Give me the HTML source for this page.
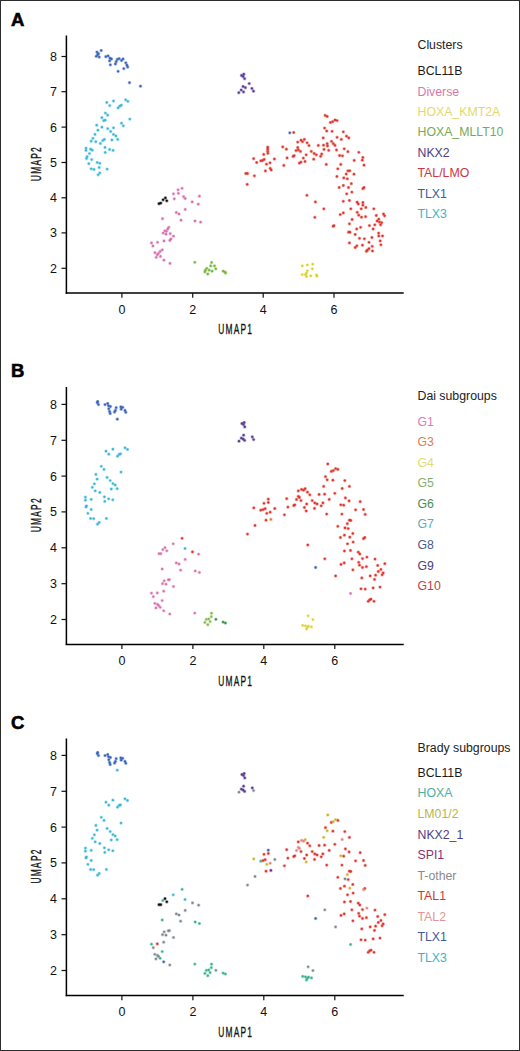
<!DOCTYPE html><html><head><meta charset="utf-8"><style>
html,body{margin:0;padding:0;background:#fff;}
body{width:520px;height:1051px;overflow:hidden;position:relative;}
svg{position:absolute;left:0;top:0;}
text{font-family:"Liberation Sans", sans-serif;}
</style></head><body>
<svg width="520" height="1051" viewBox="0 0 520 1051">
<rect x="0.5" y="0.5" width="519" height="1050" fill="#fff" stroke="#2c2c2c" stroke-width="1"/>
<text x="10.9" y="25.8" font-weight="bold" font-size="18.5" fill="#000" stroke="#000" stroke-width="0.6">A</text><line x1="66.4" y1="35.4" x2="66.4" y2="293.7" stroke="#000" stroke-width="1.5"/><line x1="65.7" y1="293" x2="403.7" y2="293" stroke="#000" stroke-width="1.5"/><line x1="61.5" y1="56.5" x2="66.4" y2="56.5" stroke="#111" stroke-width="1.2"/><text x="57" y="60.9" font-size="12.5" text-anchor="end" fill="#111">8</text><line x1="61.5" y1="91.7" x2="66.4" y2="91.7" stroke="#111" stroke-width="1.2"/><text x="57" y="96.1" font-size="12.5" text-anchor="end" fill="#111">7</text><line x1="61.5" y1="127.1" x2="66.4" y2="127.1" stroke="#111" stroke-width="1.2"/><text x="57" y="131.5" font-size="12.5" text-anchor="end" fill="#111">6</text><line x1="61.5" y1="162.5" x2="66.4" y2="162.5" stroke="#111" stroke-width="1.2"/><text x="57" y="166.9" font-size="12.5" text-anchor="end" fill="#111">5</text><line x1="61.5" y1="197.8" x2="66.4" y2="197.8" stroke="#111" stroke-width="1.2"/><text x="57" y="202.2" font-size="12.5" text-anchor="end" fill="#111">4</text><line x1="61.5" y1="232.9" x2="66.4" y2="232.9" stroke="#111" stroke-width="1.2"/><text x="57" y="237.3" font-size="12.5" text-anchor="end" fill="#111">3</text><line x1="61.5" y1="268.3" x2="66.4" y2="268.3" stroke="#111" stroke-width="1.2"/><text x="57" y="272.7" font-size="12.5" text-anchor="end" fill="#111">2</text><line x1="121.9" y1="293" x2="121.9" y2="297.7" stroke="#111" stroke-width="1.2"/><text x="121.9" y="313.6" font-size="12.5" text-anchor="middle" fill="#111">0</text><line x1="192.7" y1="293" x2="192.7" y2="297.7" stroke="#111" stroke-width="1.2"/><text x="192.7" y="313.6" font-size="12.5" text-anchor="middle" fill="#111">2</text><line x1="263.2" y1="293" x2="263.2" y2="297.7" stroke="#111" stroke-width="1.2"/><text x="263.2" y="313.6" font-size="12.5" text-anchor="middle" fill="#111">4</text><line x1="334.0" y1="293" x2="334.0" y2="297.7" stroke="#111" stroke-width="1.2"/><text x="334.0" y="313.6" font-size="12.5" text-anchor="middle" fill="#111">6</text><text transform="translate(235.7,334) scale(0.56,1)" font-size="15" letter-spacing="2.2" text-anchor="middle" fill="#111" stroke="#111" stroke-width="0.35">UMAP1</text><text transform="translate(41,163.6) rotate(-90) scale(0.56,1)" font-size="15" letter-spacing="2.2" text-anchor="middle" fill="#111" stroke="#111" stroke-width="0.35">UMAP2</text><text x="417.5" y="49.2" font-size="12.3" fill="#222">Clusters</text><text x="417.5" y="75.2" font-size="12.3" fill="#1a1a1a">BCL11B</text><text x="417.5" y="95.6" font-size="12.3" fill="#d67aaa">Diverse</text><text x="417.5" y="116.0" font-size="12.3" fill="#e2d96e">HOXA_KMT2A</text><text x="417.5" y="136.4" font-size="12.3" fill="#78aa56">HOXA_MLLT10</text><text x="417.5" y="156.8" font-size="12.3" fill="#4c4088">NKX2</text><text x="417.5" y="177.2" font-size="12.3" fill="#cc3640">TAL/LMO</text><text x="417.5" y="197.6" font-size="12.3" fill="#3c5c98">TLX1</text><text x="417.5" y="218.0" font-size="12.3" fill="#3eb2c4">TLX3</text>
<g fill="#3ebfe6" fill-opacity="0.35"><circle cx="106.8" cy="102.5" r="1.85"/><circle cx="109.7" cy="105.6" r="1.85"/><circle cx="113.5" cy="101.0" r="1.85"/><circle cx="125.6" cy="99.8" r="1.85"/><circle cx="127.9" cy="101.3" r="1.85"/><circle cx="118.1" cy="107.9" r="1.85"/><circle cx="119.8" cy="106.2" r="1.85"/><circle cx="121.3" cy="105.2" r="1.85"/><circle cx="105.4" cy="113.1" r="1.85"/><circle cx="107.7" cy="115.2" r="1.85"/><circle cx="101.9" cy="117.7" r="1.85"/><circle cx="103.7" cy="120.6" r="1.85"/><circle cx="105.2" cy="120.2" r="1.85"/><circle cx="129.8" cy="119.1" r="1.85"/><circle cx="121.5" cy="123.2" r="1.85"/><circle cx="123.3" cy="125.8" r="1.85"/><circle cx="96.7" cy="125.2" r="1.85"/><circle cx="97.9" cy="130.2" r="1.85"/><circle cx="101.9" cy="127.2" r="1.85"/><circle cx="107.7" cy="128.7" r="1.85"/><circle cx="113.5" cy="127.8" r="1.85"/><circle cx="110.6" cy="131.5" r="1.85"/><circle cx="95.0" cy="134.4" r="1.85"/><circle cx="113.5" cy="134.4" r="1.85"/><circle cx="116.0" cy="136.0" r="1.85"/><circle cx="117.7" cy="139.4" r="1.85"/><circle cx="111.9" cy="140.0" r="1.85"/><circle cx="104.4" cy="139.4" r="1.85"/><circle cx="102.7" cy="140.6" r="1.85"/><circle cx="100.4" cy="143.5" r="1.85"/><circle cx="95.8" cy="141.7" r="1.85"/><circle cx="92.9" cy="138.3" r="1.85"/><circle cx="91.2" cy="141.2" r="1.85"/><circle cx="86.0" cy="148.1" r="1.85"/><circle cx="86.0" cy="150.4" r="1.85"/><circle cx="90.6" cy="149.2" r="1.85"/><circle cx="92.3" cy="150.2" r="1.85"/><circle cx="89.4" cy="153.6" r="1.85"/><circle cx="87.1" cy="156.7" r="1.85"/><circle cx="86.5" cy="158.5" r="1.85"/><circle cx="91.7" cy="159.6" r="1.85"/><circle cx="105.0" cy="147.5" r="1.85"/><circle cx="109.6" cy="149.5" r="1.85"/><circle cx="113.1" cy="150.4" r="1.85"/><circle cx="105.2" cy="152.5" r="1.85"/><circle cx="88.8" cy="163.7" r="1.85"/><circle cx="97.2" cy="162.5" r="1.85"/><circle cx="99.8" cy="163.3" r="1.85"/><circle cx="99.2" cy="167.5" r="1.85"/><circle cx="91.2" cy="168.8" r="1.85"/><circle cx="94.0" cy="169.4" r="1.85"/><circle cx="107.1" cy="169.1" r="1.85"/><circle cx="99.8" cy="172.9" r="1.85"/><circle cx="98.1" cy="174.8" r="1.85"/></g><g fill="#3ab3d8"><circle cx="106.8" cy="102.5" r="1.15"/><circle cx="109.7" cy="105.6" r="1.15"/><circle cx="113.5" cy="101.0" r="1.15"/><circle cx="125.6" cy="99.8" r="1.15"/><circle cx="127.9" cy="101.3" r="1.15"/><circle cx="118.1" cy="107.9" r="1.15"/><circle cx="119.8" cy="106.2" r="1.15"/><circle cx="121.3" cy="105.2" r="1.15"/><circle cx="105.4" cy="113.1" r="1.15"/><circle cx="107.7" cy="115.2" r="1.15"/><circle cx="101.9" cy="117.7" r="1.15"/><circle cx="103.7" cy="120.6" r="1.15"/><circle cx="105.2" cy="120.2" r="1.15"/><circle cx="129.8" cy="119.1" r="1.15"/><circle cx="121.5" cy="123.2" r="1.15"/><circle cx="123.3" cy="125.8" r="1.15"/><circle cx="96.7" cy="125.2" r="1.15"/><circle cx="97.9" cy="130.2" r="1.15"/><circle cx="101.9" cy="127.2" r="1.15"/><circle cx="107.7" cy="128.7" r="1.15"/><circle cx="113.5" cy="127.8" r="1.15"/><circle cx="110.6" cy="131.5" r="1.15"/><circle cx="95.0" cy="134.4" r="1.15"/><circle cx="113.5" cy="134.4" r="1.15"/><circle cx="116.0" cy="136.0" r="1.15"/><circle cx="117.7" cy="139.4" r="1.15"/><circle cx="111.9" cy="140.0" r="1.15"/><circle cx="104.4" cy="139.4" r="1.15"/><circle cx="102.7" cy="140.6" r="1.15"/><circle cx="100.4" cy="143.5" r="1.15"/><circle cx="95.8" cy="141.7" r="1.15"/><circle cx="92.9" cy="138.3" r="1.15"/><circle cx="91.2" cy="141.2" r="1.15"/><circle cx="86.0" cy="148.1" r="1.15"/><circle cx="86.0" cy="150.4" r="1.15"/><circle cx="90.6" cy="149.2" r="1.15"/><circle cx="92.3" cy="150.2" r="1.15"/><circle cx="89.4" cy="153.6" r="1.15"/><circle cx="87.1" cy="156.7" r="1.15"/><circle cx="86.5" cy="158.5" r="1.15"/><circle cx="91.7" cy="159.6" r="1.15"/><circle cx="105.0" cy="147.5" r="1.15"/><circle cx="109.6" cy="149.5" r="1.15"/><circle cx="113.1" cy="150.4" r="1.15"/><circle cx="105.2" cy="152.5" r="1.15"/><circle cx="88.8" cy="163.7" r="1.15"/><circle cx="97.2" cy="162.5" r="1.15"/><circle cx="99.8" cy="163.3" r="1.15"/><circle cx="99.2" cy="167.5" r="1.15"/><circle cx="91.2" cy="168.8" r="1.15"/><circle cx="94.0" cy="169.4" r="1.15"/><circle cx="107.1" cy="169.1" r="1.15"/><circle cx="99.8" cy="172.9" r="1.15"/><circle cx="98.1" cy="174.8" r="1.15"/></g><g fill="#3b69c0" fill-opacity="0.35"><circle cx="101.2" cy="50.5" r="1.85"/><circle cx="96.9" cy="52.1" r="1.85"/><circle cx="98.5" cy="53.6" r="1.85"/><circle cx="97.7" cy="54.8" r="1.85"/><circle cx="96.2" cy="56.3" r="1.85"/><circle cx="99.2" cy="57.1" r="1.85"/><circle cx="105.8" cy="56.7" r="1.85"/><circle cx="108.1" cy="55.9" r="1.85"/><circle cx="110.0" cy="58.2" r="1.85"/><circle cx="111.5" cy="59.0" r="1.85"/><circle cx="109.6" cy="60.9" r="1.85"/><circle cx="110.4" cy="64.8" r="1.85"/><circle cx="115.4" cy="64.0" r="1.85"/><circle cx="116.2" cy="61.7" r="1.85"/><circle cx="117.3" cy="59.4" r="1.85"/><circle cx="119.2" cy="58.6" r="1.85"/><circle cx="121.5" cy="60.5" r="1.85"/><circle cx="123.1" cy="59.0" r="1.85"/><circle cx="125.8" cy="62.8" r="1.85"/><circle cx="126.9" cy="65.2" r="1.85"/><circle cx="127.7" cy="67.1" r="1.85"/><circle cx="123.8" cy="68.6" r="1.85"/><circle cx="118.1" cy="71.3" r="1.85"/><circle cx="129.5" cy="82.7" r="1.85"/><circle cx="140.5" cy="86.2" r="1.85"/><circle cx="289.8" cy="132.8" r="1.85"/></g><g fill="#3762b4"><circle cx="101.2" cy="50.5" r="1.15"/><circle cx="96.9" cy="52.1" r="1.15"/><circle cx="98.5" cy="53.6" r="1.15"/><circle cx="97.7" cy="54.8" r="1.15"/><circle cx="96.2" cy="56.3" r="1.15"/><circle cx="99.2" cy="57.1" r="1.15"/><circle cx="105.8" cy="56.7" r="1.15"/><circle cx="108.1" cy="55.9" r="1.15"/><circle cx="110.0" cy="58.2" r="1.15"/><circle cx="111.5" cy="59.0" r="1.15"/><circle cx="109.6" cy="60.9" r="1.15"/><circle cx="110.4" cy="64.8" r="1.15"/><circle cx="115.4" cy="64.0" r="1.15"/><circle cx="116.2" cy="61.7" r="1.15"/><circle cx="117.3" cy="59.4" r="1.15"/><circle cx="119.2" cy="58.6" r="1.15"/><circle cx="121.5" cy="60.5" r="1.15"/><circle cx="123.1" cy="59.0" r="1.15"/><circle cx="125.8" cy="62.8" r="1.15"/><circle cx="126.9" cy="65.2" r="1.15"/><circle cx="127.7" cy="67.1" r="1.15"/><circle cx="123.8" cy="68.6" r="1.15"/><circle cx="118.1" cy="71.3" r="1.15"/><circle cx="129.5" cy="82.7" r="1.15"/><circle cx="140.5" cy="86.2" r="1.15"/><circle cx="289.8" cy="132.8" r="1.15"/></g><g fill="#e274b4" fill-opacity="0.35"><circle cx="178.1" cy="189.8" r="1.85"/><circle cx="182.1" cy="188.3" r="1.85"/><circle cx="173.5" cy="193.8" r="1.85"/><circle cx="178.4" cy="193.3" r="1.85"/><circle cx="174.3" cy="198.8" r="1.85"/><circle cx="183.6" cy="196.7" r="1.85"/><circle cx="185.2" cy="198.5" r="1.85"/><circle cx="192.2" cy="201.9" r="1.85"/><circle cx="198.3" cy="204.2" r="1.85"/><circle cx="199.4" cy="196.2" r="1.85"/><circle cx="185.2" cy="209.4" r="1.85"/><circle cx="176.3" cy="212.5" r="1.85"/><circle cx="179.0" cy="214.0" r="1.85"/><circle cx="162.5" cy="218.7" r="1.85"/><circle cx="181.0" cy="220.2" r="1.85"/><circle cx="195.0" cy="221.0" r="1.85"/><circle cx="200.6" cy="222.2" r="1.85"/><circle cx="168.8" cy="227.3" r="1.85"/><circle cx="167.7" cy="229.0" r="1.85"/><circle cx="164.8" cy="230.8" r="1.85"/><circle cx="166.5" cy="231.3" r="1.85"/><circle cx="163.1" cy="233.1" r="1.85"/><circle cx="166.0" cy="234.2" r="1.85"/><circle cx="170.2" cy="233.7" r="1.85"/><circle cx="173.5" cy="236.2" r="1.85"/><circle cx="171.0" cy="239.0" r="1.85"/><circle cx="169.8" cy="240.4" r="1.85"/><circle cx="164.0" cy="240.9" r="1.85"/><circle cx="157.5" cy="242.3" r="1.85"/><circle cx="151.5" cy="242.9" r="1.85"/><circle cx="152.9" cy="246.0" r="1.85"/><circle cx="162.3" cy="249.8" r="1.85"/><circle cx="160.2" cy="251.3" r="1.85"/><circle cx="155.0" cy="252.7" r="1.85"/><circle cx="158.5" cy="253.3" r="1.85"/><circle cx="157.3" cy="254.8" r="1.85"/><circle cx="160.5" cy="256.4" r="1.85"/><circle cx="156.2" cy="257.3" r="1.85"/><circle cx="163.9" cy="260.2" r="1.85"/><circle cx="170.0" cy="263.4" r="1.85"/></g><g fill="#d46da9"><circle cx="178.1" cy="189.8" r="1.15"/><circle cx="182.1" cy="188.3" r="1.15"/><circle cx="173.5" cy="193.8" r="1.15"/><circle cx="178.4" cy="193.3" r="1.15"/><circle cx="174.3" cy="198.8" r="1.15"/><circle cx="183.6" cy="196.7" r="1.15"/><circle cx="185.2" cy="198.5" r="1.15"/><circle cx="192.2" cy="201.9" r="1.15"/><circle cx="198.3" cy="204.2" r="1.15"/><circle cx="199.4" cy="196.2" r="1.15"/><circle cx="185.2" cy="209.4" r="1.15"/><circle cx="176.3" cy="212.5" r="1.15"/><circle cx="179.0" cy="214.0" r="1.15"/><circle cx="162.5" cy="218.7" r="1.15"/><circle cx="181.0" cy="220.2" r="1.15"/><circle cx="195.0" cy="221.0" r="1.15"/><circle cx="200.6" cy="222.2" r="1.15"/><circle cx="168.8" cy="227.3" r="1.15"/><circle cx="167.7" cy="229.0" r="1.15"/><circle cx="164.8" cy="230.8" r="1.15"/><circle cx="166.5" cy="231.3" r="1.15"/><circle cx="163.1" cy="233.1" r="1.15"/><circle cx="166.0" cy="234.2" r="1.15"/><circle cx="170.2" cy="233.7" r="1.15"/><circle cx="173.5" cy="236.2" r="1.15"/><circle cx="171.0" cy="239.0" r="1.15"/><circle cx="169.8" cy="240.4" r="1.15"/><circle cx="164.0" cy="240.9" r="1.15"/><circle cx="157.5" cy="242.3" r="1.15"/><circle cx="151.5" cy="242.9" r="1.15"/><circle cx="152.9" cy="246.0" r="1.15"/><circle cx="162.3" cy="249.8" r="1.15"/><circle cx="160.2" cy="251.3" r="1.15"/><circle cx="155.0" cy="252.7" r="1.15"/><circle cx="158.5" cy="253.3" r="1.15"/><circle cx="157.3" cy="254.8" r="1.15"/><circle cx="160.5" cy="256.4" r="1.15"/><circle cx="156.2" cy="257.3" r="1.15"/><circle cx="163.9" cy="260.2" r="1.15"/><circle cx="170.0" cy="263.4" r="1.15"/></g><g fill="#111111" fill-opacity="0.35"><circle cx="159.0" cy="203.7" r="1.85"/><circle cx="160.8" cy="203.1" r="1.85"/><circle cx="163.1" cy="199.8" r="1.85"/><circle cx="165.4" cy="197.9" r="1.85"/><circle cx="166.8" cy="200.8" r="1.85"/></g><g fill="#0f0f0f"><circle cx="159.0" cy="203.7" r="1.15"/><circle cx="160.8" cy="203.1" r="1.15"/><circle cx="163.1" cy="199.8" r="1.15"/><circle cx="165.4" cy="197.9" r="1.15"/><circle cx="166.8" cy="200.8" r="1.15"/></g><g fill="#7cc040" fill-opacity="0.35"><circle cx="194.8" cy="262.3" r="1.85"/><circle cx="211.6" cy="262.5" r="1.85"/><circle cx="210.7" cy="265.9" r="1.85"/><circle cx="214.5" cy="265.9" r="1.85"/><circle cx="215.8" cy="268.8" r="1.85"/><circle cx="206.8" cy="268.3" r="1.85"/><circle cx="205.4" cy="270.2" r="1.85"/><circle cx="209.2" cy="270.2" r="1.85"/><circle cx="212.1" cy="271.2" r="1.85"/><circle cx="204.9" cy="271.9" r="1.85"/><circle cx="207.8" cy="274.0" r="1.85"/><circle cx="223.2" cy="271.2" r="1.85"/><circle cx="225.1" cy="272.1" r="1.85"/><circle cx="225.6" cy="273.1" r="1.85"/></g><g fill="#74b43c"><circle cx="194.8" cy="262.3" r="1.15"/><circle cx="211.6" cy="262.5" r="1.15"/><circle cx="210.7" cy="265.9" r="1.15"/><circle cx="214.5" cy="265.9" r="1.15"/><circle cx="215.8" cy="268.8" r="1.15"/><circle cx="206.8" cy="268.3" r="1.15"/><circle cx="205.4" cy="270.2" r="1.15"/><circle cx="209.2" cy="270.2" r="1.15"/><circle cx="212.1" cy="271.2" r="1.15"/><circle cx="204.9" cy="271.9" r="1.15"/><circle cx="207.8" cy="274.0" r="1.15"/><circle cx="223.2" cy="271.2" r="1.15"/><circle cx="225.1" cy="272.1" r="1.15"/><circle cx="225.6" cy="273.1" r="1.15"/></g><g fill="#5e3ea0" fill-opacity="0.35"><circle cx="241.5" cy="75.4" r="1.85"/><circle cx="243.8" cy="74.2" r="1.85"/><circle cx="243.1" cy="76.5" r="1.85"/><circle cx="244.6" cy="78.7" r="1.85"/><circle cx="249.2" cy="83.6" r="1.85"/><circle cx="243.1" cy="86.5" r="1.85"/><circle cx="245.4" cy="87.7" r="1.85"/><circle cx="251.9" cy="88.5" r="1.85"/><circle cx="253.5" cy="91.2" r="1.85"/><circle cx="241.2" cy="90.0" r="1.85"/><circle cx="243.5" cy="91.9" r="1.85"/><circle cx="238.8" cy="92.7" r="1.85"/></g><g fill="#583a96"><circle cx="241.5" cy="75.4" r="1.15"/><circle cx="243.8" cy="74.2" r="1.15"/><circle cx="243.1" cy="76.5" r="1.15"/><circle cx="244.6" cy="78.7" r="1.15"/><circle cx="249.2" cy="83.6" r="1.15"/><circle cx="243.1" cy="86.5" r="1.15"/><circle cx="245.4" cy="87.7" r="1.15"/><circle cx="251.9" cy="88.5" r="1.15"/><circle cx="253.5" cy="91.2" r="1.15"/><circle cx="241.2" cy="90.0" r="1.15"/><circle cx="243.5" cy="91.9" r="1.15"/><circle cx="238.8" cy="92.7" r="1.15"/></g><g fill="#ebe12a" fill-opacity="0.35"><circle cx="302.3" cy="265.8" r="1.85"/><circle cx="307.3" cy="265.0" r="1.85"/><circle cx="312.7" cy="264.2" r="1.85"/><circle cx="312.3" cy="268.8" r="1.85"/><circle cx="307.3" cy="270.8" r="1.85"/><circle cx="302.3" cy="274.6" r="1.85"/><circle cx="305.4" cy="274.6" r="1.85"/><circle cx="306.5" cy="276.5" r="1.85"/><circle cx="306.5" cy="273.1" r="1.85"/><circle cx="310.8" cy="275.8" r="1.85"/><circle cx="316.5" cy="275.0" r="1.85"/><circle cx="316.9" cy="276.2" r="1.85"/></g><g fill="#d8cf26"><circle cx="302.3" cy="265.8" r="1.15"/><circle cx="307.3" cy="265.0" r="1.15"/><circle cx="312.7" cy="264.2" r="1.15"/><circle cx="312.3" cy="268.8" r="1.15"/><circle cx="307.3" cy="270.8" r="1.15"/><circle cx="302.3" cy="274.6" r="1.15"/><circle cx="305.4" cy="274.6" r="1.15"/><circle cx="306.5" cy="276.5" r="1.15"/><circle cx="306.5" cy="273.1" r="1.15"/><circle cx="310.8" cy="275.8" r="1.15"/><circle cx="316.5" cy="275.0" r="1.15"/><circle cx="316.9" cy="276.2" r="1.15"/></g><g fill="#e3342b" fill-opacity="0.35"><circle cx="293.7" cy="132.5" r="1.85"/><circle cx="297.7" cy="142.1" r="1.85"/><circle cx="282.7" cy="146.9" r="1.85"/><circle cx="286.4" cy="149.2" r="1.85"/><circle cx="297.7" cy="147.5" r="1.85"/><circle cx="298.3" cy="149.8" r="1.85"/><circle cx="296.0" cy="150.6" r="1.85"/><circle cx="267.7" cy="147.2" r="1.85"/><circle cx="267.7" cy="149.2" r="1.85"/><circle cx="267.7" cy="151.3" r="1.85"/><circle cx="267.9" cy="153.3" r="1.85"/><circle cx="263.7" cy="154.4" r="1.85"/><circle cx="253.6" cy="158.7" r="1.85"/><circle cx="264.2" cy="159.4" r="1.85"/><circle cx="262.5" cy="160.5" r="1.85"/><circle cx="260.8" cy="160.8" r="1.85"/><circle cx="274.4" cy="159.0" r="1.85"/><circle cx="287.1" cy="157.9" r="1.85"/><circle cx="293.1" cy="156.4" r="1.85"/><circle cx="294.2" cy="155.6" r="1.85"/><circle cx="256.7" cy="162.5" r="1.85"/><circle cx="266.5" cy="164.2" r="1.85"/><circle cx="270.0" cy="162.8" r="1.85"/><circle cx="283.8" cy="165.4" r="1.85"/><circle cx="299.4" cy="163.1" r="1.85"/><circle cx="270.2" cy="168.3" r="1.85"/><circle cx="271.2" cy="170.0" r="1.85"/><circle cx="265.4" cy="170.9" r="1.85"/><circle cx="245.8" cy="173.5" r="1.85"/><circle cx="247.5" cy="173.5" r="1.85"/><circle cx="254.4" cy="175.8" r="1.85"/><circle cx="247.2" cy="184.4" r="1.85"/><circle cx="325.2" cy="115.4" r="1.85"/><circle cx="327.2" cy="116.5" r="1.85"/><circle cx="330.4" cy="122.5" r="1.85"/><circle cx="332.7" cy="121.7" r="1.85"/><circle cx="335.0" cy="120.0" r="1.85"/><circle cx="337.1" cy="120.6" r="1.85"/><circle cx="324.6" cy="128.1" r="1.85"/><circle cx="326.7" cy="131.0" r="1.85"/><circle cx="332.1" cy="131.3" r="1.85"/><circle cx="343.3" cy="131.8" r="1.85"/><circle cx="323.2" cy="137.9" r="1.85"/><circle cx="337.1" cy="137.3" r="1.85"/><circle cx="341.3" cy="139.4" r="1.85"/><circle cx="346.5" cy="136.2" r="1.85"/><circle cx="348.8" cy="137.9" r="1.85"/><circle cx="301.0" cy="140.2" r="1.85"/><circle cx="302.5" cy="141.7" r="1.85"/><circle cx="304.4" cy="139.4" r="1.85"/><circle cx="307.1" cy="142.8" r="1.85"/><circle cx="309.0" cy="145.6" r="1.85"/><circle cx="318.3" cy="145.4" r="1.85"/><circle cx="323.5" cy="145.2" r="1.85"/><circle cx="327.2" cy="143.7" r="1.85"/><circle cx="327.5" cy="146.0" r="1.85"/><circle cx="331.5" cy="141.3" r="1.85"/><circle cx="333.3" cy="143.7" r="1.85"/><circle cx="335.0" cy="145.4" r="1.85"/><circle cx="300.4" cy="151.4" r="1.85"/><circle cx="324.0" cy="149.4" r="1.85"/><circle cx="328.7" cy="150.3" r="1.85"/><circle cx="336.5" cy="150.0" r="1.85"/><circle cx="344.2" cy="148.8" r="1.85"/><circle cx="347.9" cy="151.7" r="1.85"/><circle cx="311.3" cy="151.4" r="1.85"/><circle cx="314.2" cy="153.5" r="1.85"/><circle cx="316.3" cy="154.8" r="1.85"/><circle cx="306.2" cy="154.8" r="1.85"/><circle cx="321.7" cy="154.0" r="1.85"/><circle cx="320.6" cy="156.3" r="1.85"/><circle cx="303.3" cy="158.1" r="1.85"/><circle cx="313.7" cy="159.2" r="1.85"/><circle cx="339.6" cy="155.5" r="1.85"/><circle cx="342.5" cy="155.8" r="1.85"/><circle cx="305.0" cy="161.5" r="1.85"/><circle cx="301.0" cy="162.1" r="1.85"/><circle cx="326.3" cy="164.4" r="1.85"/><circle cx="340.8" cy="164.4" r="1.85"/><circle cx="358.8" cy="152.3" r="1.85"/><circle cx="362.9" cy="157.5" r="1.85"/><circle cx="362.3" cy="160.2" r="1.85"/><circle cx="354.2" cy="160.4" r="1.85"/><circle cx="364.0" cy="165.2" r="1.85"/><circle cx="337.8" cy="168.8" r="1.85"/><circle cx="347.9" cy="170.8" r="1.85"/><circle cx="349.8" cy="170.8" r="1.85"/><circle cx="346.2" cy="174.0" r="1.85"/><circle cx="354.0" cy="174.2" r="1.85"/><circle cx="336.9" cy="176.5" r="1.85"/><circle cx="343.8" cy="177.9" r="1.85"/><circle cx="347.3" cy="178.8" r="1.85"/><circle cx="351.3" cy="183.7" r="1.85"/><circle cx="339.2" cy="187.5" r="1.85"/><circle cx="343.3" cy="185.5" r="1.85"/><circle cx="348.5" cy="187.5" r="1.85"/><circle cx="362.9" cy="188.7" r="1.85"/><circle cx="364.0" cy="187.5" r="1.85"/><circle cx="351.9" cy="192.1" r="1.85"/><circle cx="346.7" cy="193.8" r="1.85"/><circle cx="343.3" cy="201.3" r="1.85"/><circle cx="349.4" cy="200.5" r="1.85"/><circle cx="357.1" cy="202.2" r="1.85"/><circle cx="358.3" cy="204.0" r="1.85"/><circle cx="362.9" cy="202.5" r="1.85"/><circle cx="362.9" cy="205.2" r="1.85"/><circle cx="365.8" cy="207.5" r="1.85"/><circle cx="350.8" cy="208.8" r="1.85"/><circle cx="361.2" cy="208.8" r="1.85"/><circle cx="373.8" cy="208.8" r="1.85"/><circle cx="340.2" cy="214.6" r="1.85"/><circle cx="343.3" cy="212.9" r="1.85"/><circle cx="357.2" cy="212.3" r="1.85"/><circle cx="358.7" cy="215.2" r="1.85"/><circle cx="361.5" cy="217.2" r="1.85"/><circle cx="365.6" cy="216.7" r="1.85"/><circle cx="376.3" cy="215.5" r="1.85"/><circle cx="383.5" cy="214.0" r="1.85"/><circle cx="384.6" cy="215.8" r="1.85"/><circle cx="352.1" cy="219.5" r="1.85"/><circle cx="349.4" cy="223.8" r="1.85"/><circle cx="378.8" cy="219.2" r="1.85"/><circle cx="377.1" cy="221.0" r="1.85"/><circle cx="379.4" cy="222.1" r="1.85"/><circle cx="381.7" cy="222.7" r="1.85"/><circle cx="380.6" cy="224.8" r="1.85"/><circle cx="374.8" cy="224.8" r="1.85"/><circle cx="369.4" cy="225.6" r="1.85"/><circle cx="360.6" cy="227.3" r="1.85"/><circle cx="356.7" cy="229.0" r="1.85"/><circle cx="373.1" cy="229.0" r="1.85"/><circle cx="348.6" cy="232.2" r="1.85"/><circle cx="350.0" cy="232.2" r="1.85"/><circle cx="355.2" cy="234.5" r="1.85"/><circle cx="378.6" cy="233.1" r="1.85"/><circle cx="378.8" cy="236.0" r="1.85"/><circle cx="382.5" cy="236.0" r="1.85"/><circle cx="359.5" cy="238.3" r="1.85"/><circle cx="364.4" cy="238.8" r="1.85"/><circle cx="371.9" cy="237.5" r="1.85"/><circle cx="380.2" cy="240.9" r="1.85"/><circle cx="349.4" cy="242.9" r="1.85"/><circle cx="369.0" cy="242.3" r="1.85"/><circle cx="380.9" cy="244.8" r="1.85"/><circle cx="362.5" cy="245.2" r="1.85"/><circle cx="356.9" cy="245.8" r="1.85"/><circle cx="355.2" cy="247.5" r="1.85"/><circle cx="372.2" cy="246.3" r="1.85"/><circle cx="369.0" cy="248.7" r="1.85"/><circle cx="367.3" cy="250.2" r="1.85"/><circle cx="366.4" cy="251.3" r="1.85"/><circle cx="372.5" cy="251.0" r="1.85"/><circle cx="306.9" cy="195.3" r="1.85"/><circle cx="315.4" cy="201.9" r="1.85"/><circle cx="323.8" cy="208.8" r="1.85"/><circle cx="314.8" cy="217.3" r="1.85"/><circle cx="333.1" cy="226.3" r="1.85"/><circle cx="334.0" cy="225.6" r="1.85"/></g><g fill="#dc3229"><circle cx="293.7" cy="132.5" r="1.15"/><circle cx="297.7" cy="142.1" r="1.15"/><circle cx="282.7" cy="146.9" r="1.15"/><circle cx="286.4" cy="149.2" r="1.15"/><circle cx="297.7" cy="147.5" r="1.15"/><circle cx="298.3" cy="149.8" r="1.15"/><circle cx="296.0" cy="150.6" r="1.15"/><circle cx="267.7" cy="147.2" r="1.15"/><circle cx="267.7" cy="149.2" r="1.15"/><circle cx="267.7" cy="151.3" r="1.15"/><circle cx="267.9" cy="153.3" r="1.15"/><circle cx="263.7" cy="154.4" r="1.15"/><circle cx="253.6" cy="158.7" r="1.15"/><circle cx="264.2" cy="159.4" r="1.15"/><circle cx="262.5" cy="160.5" r="1.15"/><circle cx="260.8" cy="160.8" r="1.15"/><circle cx="274.4" cy="159.0" r="1.15"/><circle cx="287.1" cy="157.9" r="1.15"/><circle cx="293.1" cy="156.4" r="1.15"/><circle cx="294.2" cy="155.6" r="1.15"/><circle cx="256.7" cy="162.5" r="1.15"/><circle cx="266.5" cy="164.2" r="1.15"/><circle cx="270.0" cy="162.8" r="1.15"/><circle cx="283.8" cy="165.4" r="1.15"/><circle cx="299.4" cy="163.1" r="1.15"/><circle cx="270.2" cy="168.3" r="1.15"/><circle cx="271.2" cy="170.0" r="1.15"/><circle cx="265.4" cy="170.9" r="1.15"/><circle cx="245.8" cy="173.5" r="1.15"/><circle cx="247.5" cy="173.5" r="1.15"/><circle cx="254.4" cy="175.8" r="1.15"/><circle cx="247.2" cy="184.4" r="1.15"/><circle cx="325.2" cy="115.4" r="1.15"/><circle cx="327.2" cy="116.5" r="1.15"/><circle cx="330.4" cy="122.5" r="1.15"/><circle cx="332.7" cy="121.7" r="1.15"/><circle cx="335.0" cy="120.0" r="1.15"/><circle cx="337.1" cy="120.6" r="1.15"/><circle cx="324.6" cy="128.1" r="1.15"/><circle cx="326.7" cy="131.0" r="1.15"/><circle cx="332.1" cy="131.3" r="1.15"/><circle cx="343.3" cy="131.8" r="1.15"/><circle cx="323.2" cy="137.9" r="1.15"/><circle cx="337.1" cy="137.3" r="1.15"/><circle cx="341.3" cy="139.4" r="1.15"/><circle cx="346.5" cy="136.2" r="1.15"/><circle cx="348.8" cy="137.9" r="1.15"/><circle cx="301.0" cy="140.2" r="1.15"/><circle cx="302.5" cy="141.7" r="1.15"/><circle cx="304.4" cy="139.4" r="1.15"/><circle cx="307.1" cy="142.8" r="1.15"/><circle cx="309.0" cy="145.6" r="1.15"/><circle cx="318.3" cy="145.4" r="1.15"/><circle cx="323.5" cy="145.2" r="1.15"/><circle cx="327.2" cy="143.7" r="1.15"/><circle cx="327.5" cy="146.0" r="1.15"/><circle cx="331.5" cy="141.3" r="1.15"/><circle cx="333.3" cy="143.7" r="1.15"/><circle cx="335.0" cy="145.4" r="1.15"/><circle cx="300.4" cy="151.4" r="1.15"/><circle cx="324.0" cy="149.4" r="1.15"/><circle cx="328.7" cy="150.3" r="1.15"/><circle cx="336.5" cy="150.0" r="1.15"/><circle cx="344.2" cy="148.8" r="1.15"/><circle cx="347.9" cy="151.7" r="1.15"/><circle cx="311.3" cy="151.4" r="1.15"/><circle cx="314.2" cy="153.5" r="1.15"/><circle cx="316.3" cy="154.8" r="1.15"/><circle cx="306.2" cy="154.8" r="1.15"/><circle cx="321.7" cy="154.0" r="1.15"/><circle cx="320.6" cy="156.3" r="1.15"/><circle cx="303.3" cy="158.1" r="1.15"/><circle cx="313.7" cy="159.2" r="1.15"/><circle cx="339.6" cy="155.5" r="1.15"/><circle cx="342.5" cy="155.8" r="1.15"/><circle cx="305.0" cy="161.5" r="1.15"/><circle cx="301.0" cy="162.1" r="1.15"/><circle cx="326.3" cy="164.4" r="1.15"/><circle cx="340.8" cy="164.4" r="1.15"/><circle cx="358.8" cy="152.3" r="1.15"/><circle cx="362.9" cy="157.5" r="1.15"/><circle cx="362.3" cy="160.2" r="1.15"/><circle cx="354.2" cy="160.4" r="1.15"/><circle cx="364.0" cy="165.2" r="1.15"/><circle cx="337.8" cy="168.8" r="1.15"/><circle cx="347.9" cy="170.8" r="1.15"/><circle cx="349.8" cy="170.8" r="1.15"/><circle cx="346.2" cy="174.0" r="1.15"/><circle cx="354.0" cy="174.2" r="1.15"/><circle cx="336.9" cy="176.5" r="1.15"/><circle cx="343.8" cy="177.9" r="1.15"/><circle cx="347.3" cy="178.8" r="1.15"/><circle cx="351.3" cy="183.7" r="1.15"/><circle cx="339.2" cy="187.5" r="1.15"/><circle cx="343.3" cy="185.5" r="1.15"/><circle cx="348.5" cy="187.5" r="1.15"/><circle cx="362.9" cy="188.7" r="1.15"/><circle cx="364.0" cy="187.5" r="1.15"/><circle cx="351.9" cy="192.1" r="1.15"/><circle cx="346.7" cy="193.8" r="1.15"/><circle cx="343.3" cy="201.3" r="1.15"/><circle cx="349.4" cy="200.5" r="1.15"/><circle cx="357.1" cy="202.2" r="1.15"/><circle cx="358.3" cy="204.0" r="1.15"/><circle cx="362.9" cy="202.5" r="1.15"/><circle cx="362.9" cy="205.2" r="1.15"/><circle cx="365.8" cy="207.5" r="1.15"/><circle cx="350.8" cy="208.8" r="1.15"/><circle cx="361.2" cy="208.8" r="1.15"/><circle cx="373.8" cy="208.8" r="1.15"/><circle cx="340.2" cy="214.6" r="1.15"/><circle cx="343.3" cy="212.9" r="1.15"/><circle cx="357.2" cy="212.3" r="1.15"/><circle cx="358.7" cy="215.2" r="1.15"/><circle cx="361.5" cy="217.2" r="1.15"/><circle cx="365.6" cy="216.7" r="1.15"/><circle cx="376.3" cy="215.5" r="1.15"/><circle cx="383.5" cy="214.0" r="1.15"/><circle cx="384.6" cy="215.8" r="1.15"/><circle cx="352.1" cy="219.5" r="1.15"/><circle cx="349.4" cy="223.8" r="1.15"/><circle cx="378.8" cy="219.2" r="1.15"/><circle cx="377.1" cy="221.0" r="1.15"/><circle cx="379.4" cy="222.1" r="1.15"/><circle cx="381.7" cy="222.7" r="1.15"/><circle cx="380.6" cy="224.8" r="1.15"/><circle cx="374.8" cy="224.8" r="1.15"/><circle cx="369.4" cy="225.6" r="1.15"/><circle cx="360.6" cy="227.3" r="1.15"/><circle cx="356.7" cy="229.0" r="1.15"/><circle cx="373.1" cy="229.0" r="1.15"/><circle cx="348.6" cy="232.2" r="1.15"/><circle cx="350.0" cy="232.2" r="1.15"/><circle cx="355.2" cy="234.5" r="1.15"/><circle cx="378.6" cy="233.1" r="1.15"/><circle cx="378.8" cy="236.0" r="1.15"/><circle cx="382.5" cy="236.0" r="1.15"/><circle cx="359.5" cy="238.3" r="1.15"/><circle cx="364.4" cy="238.8" r="1.15"/><circle cx="371.9" cy="237.5" r="1.15"/><circle cx="380.2" cy="240.9" r="1.15"/><circle cx="349.4" cy="242.9" r="1.15"/><circle cx="369.0" cy="242.3" r="1.15"/><circle cx="380.9" cy="244.8" r="1.15"/><circle cx="362.5" cy="245.2" r="1.15"/><circle cx="356.9" cy="245.8" r="1.15"/><circle cx="355.2" cy="247.5" r="1.15"/><circle cx="372.2" cy="246.3" r="1.15"/><circle cx="369.0" cy="248.7" r="1.15"/><circle cx="367.3" cy="250.2" r="1.15"/><circle cx="366.4" cy="251.3" r="1.15"/><circle cx="372.5" cy="251.0" r="1.15"/><circle cx="306.9" cy="195.3" r="1.15"/><circle cx="315.4" cy="201.9" r="1.15"/><circle cx="323.8" cy="208.8" r="1.15"/><circle cx="314.8" cy="217.3" r="1.15"/><circle cx="333.1" cy="226.3" r="1.15"/><circle cx="334.0" cy="225.6" r="1.15"/></g>
<text x="10.9" y="377.3" font-weight="bold" font-size="18.5" fill="#000" stroke="#000" stroke-width="0.6">B</text><line x1="66.4" y1="387.1" x2="66.4" y2="645.1" stroke="#000" stroke-width="1.5"/><line x1="65.7" y1="644.4" x2="403.7" y2="644.4" stroke="#000" stroke-width="1.5"/><line x1="61.5" y1="404.4" x2="66.4" y2="404.4" stroke="#111" stroke-width="1.2"/><text x="57" y="408.8" font-size="12.5" text-anchor="end" fill="#111">8</text><line x1="61.5" y1="440.3" x2="66.4" y2="440.3" stroke="#111" stroke-width="1.2"/><text x="57" y="444.7" font-size="12.5" text-anchor="end" fill="#111">7</text><line x1="61.5" y1="476.1" x2="66.4" y2="476.1" stroke="#111" stroke-width="1.2"/><text x="57" y="480.5" font-size="12.5" text-anchor="end" fill="#111">6</text><line x1="61.5" y1="511.9" x2="66.4" y2="511.9" stroke="#111" stroke-width="1.2"/><text x="57" y="516.3" font-size="12.5" text-anchor="end" fill="#111">5</text><line x1="61.5" y1="547.8" x2="66.4" y2="547.8" stroke="#111" stroke-width="1.2"/><text x="57" y="552.2" font-size="12.5" text-anchor="end" fill="#111">4</text><line x1="61.5" y1="583.7" x2="66.4" y2="583.7" stroke="#111" stroke-width="1.2"/><text x="57" y="588.1" font-size="12.5" text-anchor="end" fill="#111">3</text><line x1="61.5" y1="619.5" x2="66.4" y2="619.5" stroke="#111" stroke-width="1.2"/><text x="57" y="623.9" font-size="12.5" text-anchor="end" fill="#111">2</text><line x1="121.9" y1="644.4" x2="121.9" y2="649.1" stroke="#111" stroke-width="1.2"/><text x="121.9" y="665.0" font-size="12.5" text-anchor="middle" fill="#111">0</text><line x1="192.9" y1="644.4" x2="192.9" y2="649.1" stroke="#111" stroke-width="1.2"/><text x="192.9" y="665.0" font-size="12.5" text-anchor="middle" fill="#111">2</text><line x1="263.8" y1="644.4" x2="263.8" y2="649.1" stroke="#111" stroke-width="1.2"/><text x="263.8" y="665.0" font-size="12.5" text-anchor="middle" fill="#111">4</text><line x1="334.8" y1="644.4" x2="334.8" y2="649.1" stroke="#111" stroke-width="1.2"/><text x="334.8" y="665.0" font-size="12.5" text-anchor="middle" fill="#111">6</text><text transform="translate(235.7,685.8) scale(0.56,1)" font-size="15" letter-spacing="2.2" text-anchor="middle" fill="#111" stroke="#111" stroke-width="0.35">UMAP1</text><text transform="translate(41,514.7) rotate(-90) scale(0.56,1)" font-size="15" letter-spacing="2.2" text-anchor="middle" fill="#111" stroke="#111" stroke-width="0.35">UMAP2</text><text x="417.5" y="400.3" font-size="12.3" fill="#222">Dai subgroups</text><text x="417.5" y="425.7" font-size="12.3" fill="#d880b0">G1</text><text x="417.5" y="446.2" font-size="12.3" fill="#d8804a">G3</text><text x="417.5" y="466.8" font-size="12.3" fill="#e2da74">G4</text><text x="417.5" y="487.3" font-size="12.3" fill="#86b070">G5</text><text x="417.5" y="507.9" font-size="12.3" fill="#4a8c58">G6</text><text x="417.5" y="528.4" font-size="12.3" fill="#56aebe">G7</text><text x="417.5" y="548.9" font-size="12.3" fill="#4a5c90">G8</text><text x="417.5" y="569.5" font-size="12.3" fill="#4c4078">G9</text><text x="417.5" y="590.0" font-size="12.3" fill="#c4404a">G10</text>
<g fill="#3b69c0" fill-opacity="0.35"><circle cx="97.7" cy="401.5" r="1.85"/><circle cx="97.3" cy="402.7" r="1.85"/><circle cx="98.5" cy="404.6" r="1.85"/><circle cx="105.0" cy="404.6" r="1.85"/><circle cx="107.7" cy="403.5" r="1.85"/><circle cx="108.5" cy="405.8" r="1.85"/><circle cx="110.4" cy="406.5" r="1.85"/><circle cx="108.8" cy="408.8" r="1.85"/><circle cx="109.6" cy="411.5" r="1.85"/><circle cx="110.2" cy="413.5" r="1.85"/><circle cx="116.2" cy="407.7" r="1.85"/><circle cx="115.4" cy="410.4" r="1.85"/><circle cx="114.5" cy="412.1" r="1.85"/><circle cx="120.8" cy="406.9" r="1.85"/><circle cx="122.7" cy="407.3" r="1.85"/><circle cx="121.2" cy="409.2" r="1.85"/><circle cx="125.0" cy="410.4" r="1.85"/><circle cx="125.8" cy="412.3" r="1.85"/><circle cx="117.3" cy="419.2" r="1.85"/><circle cx="315.6" cy="567.5" r="1.85"/></g><g fill="#3762b4"><circle cx="97.7" cy="401.5" r="1.15"/><circle cx="97.3" cy="402.7" r="1.15"/><circle cx="98.5" cy="404.6" r="1.15"/><circle cx="105.0" cy="404.6" r="1.15"/><circle cx="107.7" cy="403.5" r="1.15"/><circle cx="108.5" cy="405.8" r="1.15"/><circle cx="110.4" cy="406.5" r="1.15"/><circle cx="108.8" cy="408.8" r="1.15"/><circle cx="109.6" cy="411.5" r="1.15"/><circle cx="110.2" cy="413.5" r="1.15"/><circle cx="116.2" cy="407.7" r="1.15"/><circle cx="115.4" cy="410.4" r="1.15"/><circle cx="114.5" cy="412.1" r="1.15"/><circle cx="120.8" cy="406.9" r="1.15"/><circle cx="122.7" cy="407.3" r="1.15"/><circle cx="121.2" cy="409.2" r="1.15"/><circle cx="125.0" cy="410.4" r="1.15"/><circle cx="125.8" cy="412.3" r="1.15"/><circle cx="117.3" cy="419.2" r="1.15"/><circle cx="315.6" cy="567.5" r="1.15"/></g><g fill="#3ebfe6" fill-opacity="0.35"><circle cx="106.0" cy="451.2" r="1.85"/><circle cx="108.8" cy="454.2" r="1.85"/><circle cx="112.9" cy="449.2" r="1.85"/><circle cx="125.0" cy="447.8" r="1.85"/><circle cx="127.5" cy="449.5" r="1.85"/><circle cx="117.5" cy="456.2" r="1.85"/><circle cx="119.2" cy="454.4" r="1.85"/><circle cx="120.6" cy="453.8" r="1.85"/><circle cx="101.3" cy="466.3" r="1.85"/><circle cx="104.0" cy="469.4" r="1.85"/><circle cx="121.0" cy="472.1" r="1.85"/><circle cx="95.9" cy="474.4" r="1.85"/><circle cx="97.1" cy="479.2" r="1.85"/><circle cx="107.1" cy="477.5" r="1.85"/><circle cx="110.2" cy="480.6" r="1.85"/><circle cx="112.9" cy="483.6" r="1.85"/><circle cx="94.4" cy="483.8" r="1.85"/><circle cx="115.2" cy="485.0" r="1.85"/><circle cx="117.1" cy="488.7" r="1.85"/><circle cx="111.3" cy="489.0" r="1.85"/><circle cx="92.3" cy="487.3" r="1.85"/><circle cx="95.2" cy="490.8" r="1.85"/><circle cx="99.8" cy="492.5" r="1.85"/><circle cx="104.4" cy="496.8" r="1.85"/><circle cx="108.7" cy="498.8" r="1.85"/><circle cx="112.8" cy="499.8" r="1.85"/><circle cx="104.8" cy="501.4" r="1.85"/><circle cx="85.4" cy="497.1" r="1.85"/><circle cx="85.4" cy="500.2" r="1.85"/><circle cx="91.2" cy="499.4" r="1.85"/><circle cx="86.0" cy="506.9" r="1.85"/><circle cx="86.5" cy="506.0" r="1.85"/><circle cx="91.2" cy="509.5" r="1.85"/><circle cx="87.9" cy="513.3" r="1.85"/><circle cx="90.6" cy="518.5" r="1.85"/><circle cx="93.7" cy="518.7" r="1.85"/><circle cx="106.4" cy="518.5" r="1.85"/><circle cx="99.2" cy="522.5" r="1.85"/><circle cx="97.5" cy="524.2" r="1.85"/><circle cx="185.0" cy="548.5" r="1.85"/></g><g fill="#3ab3d8"><circle cx="106.0" cy="451.2" r="1.15"/><circle cx="108.8" cy="454.2" r="1.15"/><circle cx="112.9" cy="449.2" r="1.15"/><circle cx="125.0" cy="447.8" r="1.15"/><circle cx="127.5" cy="449.5" r="1.15"/><circle cx="117.5" cy="456.2" r="1.15"/><circle cx="119.2" cy="454.4" r="1.15"/><circle cx="120.6" cy="453.8" r="1.15"/><circle cx="101.3" cy="466.3" r="1.15"/><circle cx="104.0" cy="469.4" r="1.15"/><circle cx="121.0" cy="472.1" r="1.15"/><circle cx="95.9" cy="474.4" r="1.15"/><circle cx="97.1" cy="479.2" r="1.15"/><circle cx="107.1" cy="477.5" r="1.15"/><circle cx="110.2" cy="480.6" r="1.15"/><circle cx="112.9" cy="483.6" r="1.15"/><circle cx="94.4" cy="483.8" r="1.15"/><circle cx="115.2" cy="485.0" r="1.15"/><circle cx="117.1" cy="488.7" r="1.15"/><circle cx="111.3" cy="489.0" r="1.15"/><circle cx="92.3" cy="487.3" r="1.15"/><circle cx="95.2" cy="490.8" r="1.15"/><circle cx="99.8" cy="492.5" r="1.15"/><circle cx="104.4" cy="496.8" r="1.15"/><circle cx="108.7" cy="498.8" r="1.15"/><circle cx="112.8" cy="499.8" r="1.15"/><circle cx="104.8" cy="501.4" r="1.15"/><circle cx="85.4" cy="497.1" r="1.15"/><circle cx="85.4" cy="500.2" r="1.15"/><circle cx="91.2" cy="499.4" r="1.15"/><circle cx="86.0" cy="506.9" r="1.15"/><circle cx="86.5" cy="506.0" r="1.15"/><circle cx="91.2" cy="509.5" r="1.15"/><circle cx="87.9" cy="513.3" r="1.15"/><circle cx="90.6" cy="518.5" r="1.15"/><circle cx="93.7" cy="518.7" r="1.15"/><circle cx="106.4" cy="518.5" r="1.15"/><circle cx="99.2" cy="522.5" r="1.15"/><circle cx="97.5" cy="524.2" r="1.15"/><circle cx="185.0" cy="548.5" r="1.15"/></g><g fill="#e3342b" fill-opacity="0.35"><circle cx="182.1" cy="538.3" r="1.85"/><circle cx="192.5" cy="551.9" r="1.85"/><circle cx="268.3" cy="499.2" r="1.85"/><circle cx="253.8" cy="507.9" r="1.85"/><circle cx="266.8" cy="513.3" r="1.85"/><circle cx="327.8" cy="464.0" r="1.85"/><circle cx="333.3" cy="470.6" r="1.85"/><circle cx="335.6" cy="468.6" r="1.85"/><circle cx="327.2" cy="479.8" r="1.85"/><circle cx="323.7" cy="486.4" r="1.85"/><circle cx="305.2" cy="488.7" r="1.85"/><circle cx="306.2" cy="511.0" r="1.85"/><circle cx="340.8" cy="504.8" r="1.85"/><circle cx="347.3" cy="523.7" r="1.85"/><circle cx="349.8" cy="537.2" r="1.85"/><circle cx="260.8" cy="510.2" r="1.85"/><circle cx="270.2" cy="512.2" r="1.85"/><circle cx="342.2" cy="488.5" r="1.85"/><circle cx="301.5" cy="489.4" r="1.85"/><circle cx="303.6" cy="490.2" r="1.85"/><circle cx="298.3" cy="496.3" r="1.85"/><circle cx="299.4" cy="497.5" r="1.85"/><circle cx="296.5" cy="499.5" r="1.85"/><circle cx="363.5" cy="538.7" r="1.85"/><circle cx="366.9" cy="557.1" r="1.85"/><circle cx="274.8" cy="508.5" r="1.85"/><circle cx="255.0" cy="525.5" r="1.85"/><circle cx="247.5" cy="534.1" r="1.85"/><circle cx="345.0" cy="527.9" r="1.85"/><circle cx="324.8" cy="558.8" r="1.85"/><circle cx="335.6" cy="575.9" r="1.85"/><circle cx="284.4" cy="514.8" r="1.85"/><circle cx="298.3" cy="490.9" r="1.85"/><circle cx="268.3" cy="502.5" r="1.85"/><circle cx="264.0" cy="503.3" r="1.85"/><circle cx="263.1" cy="509.6" r="1.85"/><circle cx="265.2" cy="508.7" r="1.85"/><circle cx="286.7" cy="498.7" r="1.85"/><circle cx="287.9" cy="507.1" r="1.85"/><circle cx="293.7" cy="505.6" r="1.85"/><circle cx="294.8" cy="504.8" r="1.85"/><circle cx="266.0" cy="520.2" r="1.85"/><circle cx="331.3" cy="471.4" r="1.85"/><circle cx="337.9" cy="469.4" r="1.85"/><circle cx="325.5" cy="476.7" r="1.85"/><circle cx="332.9" cy="480.2" r="1.85"/><circle cx="344.8" cy="480.6" r="1.85"/><circle cx="349.4" cy="486.4" r="1.85"/><circle cx="307.5" cy="492.2" r="1.85"/><circle cx="309.8" cy="494.8" r="1.85"/><circle cx="319.1" cy="494.5" r="1.85"/><circle cx="324.6" cy="494.2" r="1.85"/><circle cx="334.8" cy="493.3" r="1.85"/><circle cx="301.0" cy="500.6" r="1.85"/><circle cx="312.2" cy="500.6" r="1.85"/><circle cx="314.8" cy="502.9" r="1.85"/><circle cx="317.1" cy="504.0" r="1.85"/><circle cx="322.9" cy="502.9" r="1.85"/><circle cx="321.2" cy="505.8" r="1.85"/><circle cx="306.7" cy="504.0" r="1.85"/><circle cx="304.4" cy="507.5" r="1.85"/><circle cx="314.5" cy="508.4" r="1.85"/><circle cx="329.2" cy="499.4" r="1.85"/><circle cx="345.4" cy="497.9" r="1.85"/><circle cx="349.1" cy="500.9" r="1.85"/><circle cx="343.7" cy="505.2" r="1.85"/><circle cx="326.7" cy="514.1" r="1.85"/><circle cx="341.9" cy="514.1" r="1.85"/><circle cx="360.2" cy="501.7" r="1.85"/><circle cx="355.6" cy="509.8" r="1.85"/><circle cx="363.5" cy="509.5" r="1.85"/><circle cx="365.2" cy="514.4" r="1.85"/><circle cx="349.4" cy="520.2" r="1.85"/><circle cx="350.8" cy="520.5" r="1.85"/><circle cx="337.8" cy="526.3" r="1.85"/><circle cx="348.2" cy="528.6" r="1.85"/><circle cx="352.8" cy="533.5" r="1.85"/><circle cx="344.4" cy="535.2" r="1.85"/><circle cx="340.4" cy="537.5" r="1.85"/><circle cx="364.8" cy="537.5" r="1.85"/><circle cx="353.1" cy="542.1" r="1.85"/><circle cx="347.5" cy="543.8" r="1.85"/><circle cx="344.4" cy="551.0" r="1.85"/><circle cx="350.5" cy="550.5" r="1.85"/><circle cx="358.3" cy="552.2" r="1.85"/><circle cx="359.8" cy="554.0" r="1.85"/><circle cx="351.9" cy="558.8" r="1.85"/><circle cx="362.5" cy="558.6" r="1.85"/><circle cx="375.0" cy="559.1" r="1.85"/><circle cx="341.0" cy="564.4" r="1.85"/><circle cx="344.2" cy="562.9" r="1.85"/><circle cx="358.7" cy="562.3" r="1.85"/><circle cx="359.5" cy="565.2" r="1.85"/><circle cx="362.5" cy="567.5" r="1.85"/><circle cx="366.4" cy="566.7" r="1.85"/><circle cx="377.7" cy="565.5" r="1.85"/><circle cx="384.8" cy="563.7" r="1.85"/><circle cx="352.9" cy="569.8" r="1.85"/><circle cx="380.9" cy="569.5" r="1.85"/><circle cx="378.3" cy="571.5" r="1.85"/><circle cx="383.2" cy="572.9" r="1.85"/><circle cx="382.1" cy="574.8" r="1.85"/><circle cx="375.6" cy="575.2" r="1.85"/><circle cx="370.2" cy="575.9" r="1.85"/><circle cx="361.8" cy="577.9" r="1.85"/><circle cx="374.5" cy="579.4" r="1.85"/><circle cx="361.0" cy="588.8" r="1.85"/><circle cx="365.2" cy="589.1" r="1.85"/><circle cx="373.1" cy="587.9" r="1.85"/><circle cx="380.0" cy="587.1" r="1.85"/><circle cx="368.2" cy="601.3" r="1.85"/><circle cx="369.6" cy="599.8" r="1.85"/><circle cx="371.0" cy="599.2" r="1.85"/><circle cx="374.0" cy="601.3" r="1.85"/><circle cx="307.8" cy="545.0" r="1.85"/></g><g fill="#dc3229"><circle cx="182.1" cy="538.3" r="1.15"/><circle cx="192.5" cy="551.9" r="1.15"/><circle cx="268.3" cy="499.2" r="1.15"/><circle cx="253.8" cy="507.9" r="1.15"/><circle cx="266.8" cy="513.3" r="1.15"/><circle cx="327.8" cy="464.0" r="1.15"/><circle cx="333.3" cy="470.6" r="1.15"/><circle cx="335.6" cy="468.6" r="1.15"/><circle cx="327.2" cy="479.8" r="1.15"/><circle cx="323.7" cy="486.4" r="1.15"/><circle cx="305.2" cy="488.7" r="1.15"/><circle cx="306.2" cy="511.0" r="1.15"/><circle cx="340.8" cy="504.8" r="1.15"/><circle cx="347.3" cy="523.7" r="1.15"/><circle cx="349.8" cy="537.2" r="1.15"/><circle cx="260.8" cy="510.2" r="1.15"/><circle cx="270.2" cy="512.2" r="1.15"/><circle cx="342.2" cy="488.5" r="1.15"/><circle cx="301.5" cy="489.4" r="1.15"/><circle cx="303.6" cy="490.2" r="1.15"/><circle cx="298.3" cy="496.3" r="1.15"/><circle cx="299.4" cy="497.5" r="1.15"/><circle cx="296.5" cy="499.5" r="1.15"/><circle cx="363.5" cy="538.7" r="1.15"/><circle cx="366.9" cy="557.1" r="1.15"/><circle cx="274.8" cy="508.5" r="1.15"/><circle cx="255.0" cy="525.5" r="1.15"/><circle cx="247.5" cy="534.1" r="1.15"/><circle cx="345.0" cy="527.9" r="1.15"/><circle cx="324.8" cy="558.8" r="1.15"/><circle cx="335.6" cy="575.9" r="1.15"/><circle cx="284.4" cy="514.8" r="1.15"/><circle cx="298.3" cy="490.9" r="1.15"/><circle cx="268.3" cy="502.5" r="1.15"/><circle cx="264.0" cy="503.3" r="1.15"/><circle cx="263.1" cy="509.6" r="1.15"/><circle cx="265.2" cy="508.7" r="1.15"/><circle cx="286.7" cy="498.7" r="1.15"/><circle cx="287.9" cy="507.1" r="1.15"/><circle cx="293.7" cy="505.6" r="1.15"/><circle cx="294.8" cy="504.8" r="1.15"/><circle cx="266.0" cy="520.2" r="1.15"/><circle cx="331.3" cy="471.4" r="1.15"/><circle cx="337.9" cy="469.4" r="1.15"/><circle cx="325.5" cy="476.7" r="1.15"/><circle cx="332.9" cy="480.2" r="1.15"/><circle cx="344.8" cy="480.6" r="1.15"/><circle cx="349.4" cy="486.4" r="1.15"/><circle cx="307.5" cy="492.2" r="1.15"/><circle cx="309.8" cy="494.8" r="1.15"/><circle cx="319.1" cy="494.5" r="1.15"/><circle cx="324.6" cy="494.2" r="1.15"/><circle cx="334.8" cy="493.3" r="1.15"/><circle cx="301.0" cy="500.6" r="1.15"/><circle cx="312.2" cy="500.6" r="1.15"/><circle cx="314.8" cy="502.9" r="1.15"/><circle cx="317.1" cy="504.0" r="1.15"/><circle cx="322.9" cy="502.9" r="1.15"/><circle cx="321.2" cy="505.8" r="1.15"/><circle cx="306.7" cy="504.0" r="1.15"/><circle cx="304.4" cy="507.5" r="1.15"/><circle cx="314.5" cy="508.4" r="1.15"/><circle cx="329.2" cy="499.4" r="1.15"/><circle cx="345.4" cy="497.9" r="1.15"/><circle cx="349.1" cy="500.9" r="1.15"/><circle cx="343.7" cy="505.2" r="1.15"/><circle cx="326.7" cy="514.1" r="1.15"/><circle cx="341.9" cy="514.1" r="1.15"/><circle cx="360.2" cy="501.7" r="1.15"/><circle cx="355.6" cy="509.8" r="1.15"/><circle cx="363.5" cy="509.5" r="1.15"/><circle cx="365.2" cy="514.4" r="1.15"/><circle cx="349.4" cy="520.2" r="1.15"/><circle cx="350.8" cy="520.5" r="1.15"/><circle cx="337.8" cy="526.3" r="1.15"/><circle cx="348.2" cy="528.6" r="1.15"/><circle cx="352.8" cy="533.5" r="1.15"/><circle cx="344.4" cy="535.2" r="1.15"/><circle cx="340.4" cy="537.5" r="1.15"/><circle cx="364.8" cy="537.5" r="1.15"/><circle cx="353.1" cy="542.1" r="1.15"/><circle cx="347.5" cy="543.8" r="1.15"/><circle cx="344.4" cy="551.0" r="1.15"/><circle cx="350.5" cy="550.5" r="1.15"/><circle cx="358.3" cy="552.2" r="1.15"/><circle cx="359.8" cy="554.0" r="1.15"/><circle cx="351.9" cy="558.8" r="1.15"/><circle cx="362.5" cy="558.6" r="1.15"/><circle cx="375.0" cy="559.1" r="1.15"/><circle cx="341.0" cy="564.4" r="1.15"/><circle cx="344.2" cy="562.9" r="1.15"/><circle cx="358.7" cy="562.3" r="1.15"/><circle cx="359.5" cy="565.2" r="1.15"/><circle cx="362.5" cy="567.5" r="1.15"/><circle cx="366.4" cy="566.7" r="1.15"/><circle cx="377.7" cy="565.5" r="1.15"/><circle cx="384.8" cy="563.7" r="1.15"/><circle cx="352.9" cy="569.8" r="1.15"/><circle cx="380.9" cy="569.5" r="1.15"/><circle cx="378.3" cy="571.5" r="1.15"/><circle cx="383.2" cy="572.9" r="1.15"/><circle cx="382.1" cy="574.8" r="1.15"/><circle cx="375.6" cy="575.2" r="1.15"/><circle cx="370.2" cy="575.9" r="1.15"/><circle cx="361.8" cy="577.9" r="1.15"/><circle cx="374.5" cy="579.4" r="1.15"/><circle cx="361.0" cy="588.8" r="1.15"/><circle cx="365.2" cy="589.1" r="1.15"/><circle cx="373.1" cy="587.9" r="1.15"/><circle cx="380.0" cy="587.1" r="1.15"/><circle cx="368.2" cy="601.3" r="1.15"/><circle cx="369.6" cy="599.8" r="1.15"/><circle cx="371.0" cy="599.2" r="1.15"/><circle cx="374.0" cy="601.3" r="1.15"/><circle cx="307.8" cy="545.0" r="1.15"/></g><g fill="#e27ab6" fill-opacity="0.35"><circle cx="173.2" cy="543.8" r="1.85"/><circle cx="198.6" cy="554.2" r="1.85"/><circle cx="165.0" cy="547.7" r="1.85"/><circle cx="166.8" cy="550.8" r="1.85"/><circle cx="159.0" cy="553.7" r="1.85"/><circle cx="160.8" cy="553.7" r="1.85"/><circle cx="162.8" cy="549.6" r="1.85"/><circle cx="185.2" cy="559.4" r="1.85"/><circle cx="176.3" cy="562.9" r="1.85"/><circle cx="179.0" cy="564.0" r="1.85"/><circle cx="180.6" cy="570.2" r="1.85"/><circle cx="164.2" cy="580.8" r="1.85"/><circle cx="168.3" cy="579.8" r="1.85"/><circle cx="169.4" cy="579.6" r="1.85"/><circle cx="162.5" cy="583.7" r="1.85"/><circle cx="166.0" cy="584.2" r="1.85"/><circle cx="173.5" cy="586.5" r="1.85"/><circle cx="163.7" cy="591.2" r="1.85"/><circle cx="153.3" cy="596.7" r="1.85"/><circle cx="154.8" cy="603.3" r="1.85"/><circle cx="157.5" cy="604.4" r="1.85"/><circle cx="158.7" cy="605.6" r="1.85"/><circle cx="155.9" cy="607.9" r="1.85"/><circle cx="169.8" cy="614.0" r="1.85"/><circle cx="162.2" cy="569.0" r="1.85"/><circle cx="195.2" cy="571.0" r="1.85"/><circle cx="199.4" cy="572.5" r="1.85"/><circle cx="151.5" cy="593.2" r="1.85"/><circle cx="162.2" cy="600.6" r="1.85"/><circle cx="160.2" cy="607.3" r="1.85"/><circle cx="194.8" cy="613.1" r="1.85"/><circle cx="157.3" cy="592.9" r="1.85"/><circle cx="163.7" cy="610.8" r="1.85"/><circle cx="350.6" cy="593.5" r="1.85"/></g><g fill="#d472ab"><circle cx="173.2" cy="543.8" r="1.15"/><circle cx="198.6" cy="554.2" r="1.15"/><circle cx="165.0" cy="547.7" r="1.15"/><circle cx="166.8" cy="550.8" r="1.15"/><circle cx="159.0" cy="553.7" r="1.15"/><circle cx="160.8" cy="553.7" r="1.15"/><circle cx="162.8" cy="549.6" r="1.15"/><circle cx="185.2" cy="559.4" r="1.15"/><circle cx="176.3" cy="562.9" r="1.15"/><circle cx="179.0" cy="564.0" r="1.15"/><circle cx="180.6" cy="570.2" r="1.15"/><circle cx="164.2" cy="580.8" r="1.15"/><circle cx="168.3" cy="579.8" r="1.15"/><circle cx="169.4" cy="579.6" r="1.15"/><circle cx="162.5" cy="583.7" r="1.15"/><circle cx="166.0" cy="584.2" r="1.15"/><circle cx="173.5" cy="586.5" r="1.15"/><circle cx="163.7" cy="591.2" r="1.15"/><circle cx="153.3" cy="596.7" r="1.15"/><circle cx="154.8" cy="603.3" r="1.15"/><circle cx="157.5" cy="604.4" r="1.15"/><circle cx="158.7" cy="605.6" r="1.15"/><circle cx="155.9" cy="607.9" r="1.15"/><circle cx="169.8" cy="614.0" r="1.15"/><circle cx="162.2" cy="569.0" r="1.15"/><circle cx="195.2" cy="571.0" r="1.15"/><circle cx="199.4" cy="572.5" r="1.15"/><circle cx="151.5" cy="593.2" r="1.15"/><circle cx="162.2" cy="600.6" r="1.15"/><circle cx="160.2" cy="607.3" r="1.15"/><circle cx="194.8" cy="613.1" r="1.15"/><circle cx="157.3" cy="592.9" r="1.15"/><circle cx="163.7" cy="610.8" r="1.15"/><circle cx="350.6" cy="593.5" r="1.15"/></g><g fill="#8cc450" fill-opacity="0.35"><circle cx="211.5" cy="613.2" r="1.85"/><circle cx="211.3" cy="616.7" r="1.85"/><circle cx="206.3" cy="619.3" r="1.85"/><circle cx="208.7" cy="619.0" r="1.85"/><circle cx="204.9" cy="622.4" r="1.85"/><circle cx="210.1" cy="621.6" r="1.85"/><circle cx="207.8" cy="624.7" r="1.85"/></g><g fill="#83b84b"><circle cx="211.5" cy="613.2" r="1.15"/><circle cx="211.3" cy="616.7" r="1.15"/><circle cx="206.3" cy="619.3" r="1.15"/><circle cx="208.7" cy="619.0" r="1.15"/><circle cx="204.9" cy="622.4" r="1.15"/><circle cx="210.1" cy="621.6" r="1.15"/><circle cx="207.8" cy="624.7" r="1.15"/></g><g fill="#3a9a48" fill-opacity="0.35"><circle cx="215.9" cy="619.3" r="1.85"/><circle cx="223.1" cy="622.1" r="1.85"/><circle cx="225.4" cy="623.0" r="1.85"/></g><g fill="#369043"><circle cx="215.9" cy="619.3" r="1.15"/><circle cx="223.1" cy="622.1" r="1.15"/><circle cx="225.4" cy="623.0" r="1.15"/></g><g fill="#5b3f98" fill-opacity="0.35"><circle cx="241.9" cy="423.5" r="1.85"/><circle cx="244.2" cy="422.5" r="1.85"/><circle cx="243.5" cy="424.6" r="1.85"/><circle cx="244.8" cy="426.9" r="1.85"/><circle cx="243.6" cy="435.2" r="1.85"/><circle cx="241.3" cy="438.1" r="1.85"/><circle cx="243.1" cy="439.0" r="1.85"/><circle cx="244.6" cy="440.4" r="1.85"/><circle cx="252.3" cy="436.9" r="1.85"/><circle cx="239.0" cy="441.2" r="1.85"/><circle cx="253.6" cy="439.6" r="1.85"/></g><g fill="#553b8e"><circle cx="241.9" cy="423.5" r="1.15"/><circle cx="244.2" cy="422.5" r="1.15"/><circle cx="243.5" cy="424.6" r="1.15"/><circle cx="244.8" cy="426.9" r="1.15"/><circle cx="243.6" cy="435.2" r="1.15"/><circle cx="241.3" cy="438.1" r="1.15"/><circle cx="243.1" cy="439.0" r="1.15"/><circle cx="244.6" cy="440.4" r="1.15"/><circle cx="252.3" cy="436.9" r="1.15"/><circle cx="239.0" cy="441.2" r="1.15"/><circle cx="253.6" cy="439.6" r="1.15"/></g><g fill="#ece13a" fill-opacity="0.35"><circle cx="308.1" cy="615.8" r="1.85"/><circle cx="312.9" cy="619.6" r="1.85"/><circle cx="302.7" cy="625.4" r="1.85"/><circle cx="305.4" cy="625.8" r="1.85"/><circle cx="307.3" cy="627.3" r="1.85"/><circle cx="306.5" cy="629.1" r="1.85"/><circle cx="311.5" cy="626.9" r="1.85"/><circle cx="308.5" cy="626.2" r="1.85"/></g><g fill="#d9cf35"><circle cx="308.1" cy="615.8" r="1.15"/><circle cx="312.9" cy="619.6" r="1.15"/><circle cx="302.7" cy="625.4" r="1.15"/><circle cx="305.4" cy="625.8" r="1.15"/><circle cx="307.3" cy="627.3" r="1.15"/><circle cx="306.5" cy="629.1" r="1.15"/><circle cx="311.5" cy="626.9" r="1.15"/><circle cx="308.5" cy="626.2" r="1.15"/></g><g fill="#e8843a" fill-opacity="0.35"><circle cx="270.9" cy="519.4" r="1.85"/></g><g fill="#da7c36"><circle cx="270.9" cy="519.4" r="1.15"/></g>
<text x="10.9" y="728.5" font-weight="bold" font-size="18.5" fill="#000" stroke="#000" stroke-width="0.6">C</text><line x1="66.4" y1="738.5" x2="66.4" y2="996.3000000000001" stroke="#000" stroke-width="1.5"/><line x1="65.7" y1="995.6" x2="403.7" y2="995.6" stroke="#000" stroke-width="1.5"/><line x1="61.5" y1="755.4" x2="66.4" y2="755.4" stroke="#111" stroke-width="1.2"/><text x="57" y="759.8" font-size="12.5" text-anchor="end" fill="#111">8</text><line x1="61.5" y1="791.3" x2="66.4" y2="791.3" stroke="#111" stroke-width="1.2"/><text x="57" y="795.7" font-size="12.5" text-anchor="end" fill="#111">7</text><line x1="61.5" y1="827.1" x2="66.4" y2="827.1" stroke="#111" stroke-width="1.2"/><text x="57" y="831.5" font-size="12.5" text-anchor="end" fill="#111">6</text><line x1="61.5" y1="862.9" x2="66.4" y2="862.9" stroke="#111" stroke-width="1.2"/><text x="57" y="867.3" font-size="12.5" text-anchor="end" fill="#111">5</text><line x1="61.5" y1="898.8" x2="66.4" y2="898.8" stroke="#111" stroke-width="1.2"/><text x="57" y="903.2" font-size="12.5" text-anchor="end" fill="#111">4</text><line x1="61.5" y1="934.7" x2="66.4" y2="934.7" stroke="#111" stroke-width="1.2"/><text x="57" y="939.1" font-size="12.5" text-anchor="end" fill="#111">3</text><line x1="61.5" y1="970.5" x2="66.4" y2="970.5" stroke="#111" stroke-width="1.2"/><text x="57" y="974.9" font-size="12.5" text-anchor="end" fill="#111">2</text><line x1="121.9" y1="995.6" x2="121.9" y2="1000.3000000000001" stroke="#111" stroke-width="1.2"/><text x="121.9" y="1016.2" font-size="12.5" text-anchor="middle" fill="#111">0</text><line x1="192.9" y1="995.6" x2="192.9" y2="1000.3000000000001" stroke="#111" stroke-width="1.2"/><text x="192.9" y="1016.2" font-size="12.5" text-anchor="middle" fill="#111">2</text><line x1="263.8" y1="995.6" x2="263.8" y2="1000.3000000000001" stroke="#111" stroke-width="1.2"/><text x="263.8" y="1016.2" font-size="12.5" text-anchor="middle" fill="#111">4</text><line x1="334.8" y1="995.6" x2="334.8" y2="1000.3000000000001" stroke="#111" stroke-width="1.2"/><text x="334.8" y="1016.2" font-size="12.5" text-anchor="middle" fill="#111">6</text><text transform="translate(235.7,1036.7) scale(0.56,1)" font-size="15" letter-spacing="2.2" text-anchor="middle" fill="#111" stroke="#111" stroke-width="0.35">UMAP1</text><text transform="translate(41,865.9) rotate(-90) scale(0.56,1)" font-size="15" letter-spacing="2.2" text-anchor="middle" fill="#111" stroke="#111" stroke-width="0.35">UMAP2</text><text x="417.5" y="751.9" font-size="12.3" fill="#222">Brady subgroups</text><text x="417.5" y="776.8" font-size="12.3" fill="#1a1a1a">BCL11B</text><text x="417.5" y="797.4" font-size="12.3" fill="#4cb0a0">HOXA</text><text x="417.5" y="817.9" font-size="12.3" fill="#bcb450">LM01/2</text><text x="417.5" y="838.5" font-size="12.3" fill="#4c4088">NKX2_1</text><text x="417.5" y="859.1" font-size="12.3" fill="#843274">SPI1</text><text x="417.5" y="879.6" font-size="12.3" fill="#8a8a8a">T-other</text><text x="417.5" y="900.2" font-size="12.3" fill="#cc3640">TAL1</text><text x="417.5" y="920.8" font-size="12.3" fill="#e49494">TAL2</text><text x="417.5" y="941.4" font-size="12.3" fill="#3c5c98">TLX1</text><text x="417.5" y="961.9" font-size="12.3" fill="#3eb2c4">TLX3</text>
<g fill="#3b69c0" fill-opacity="0.35"><circle cx="97.7" cy="752.5" r="1.85"/><circle cx="97.3" cy="753.7" r="1.85"/><circle cx="98.5" cy="755.6" r="1.85"/><circle cx="105.0" cy="755.6" r="1.85"/><circle cx="107.7" cy="754.5" r="1.85"/><circle cx="108.5" cy="756.8" r="1.85"/><circle cx="110.4" cy="757.5" r="1.85"/><circle cx="108.8" cy="759.8" r="1.85"/><circle cx="109.6" cy="762.5" r="1.85"/><circle cx="110.2" cy="764.5" r="1.85"/><circle cx="116.2" cy="758.7" r="1.85"/><circle cx="115.4" cy="761.4" r="1.85"/><circle cx="114.5" cy="763.1" r="1.85"/><circle cx="120.8" cy="757.9" r="1.85"/><circle cx="122.7" cy="758.3" r="1.85"/><circle cx="121.2" cy="760.2" r="1.85"/><circle cx="125.0" cy="761.4" r="1.85"/><circle cx="125.8" cy="763.3" r="1.85"/><circle cx="163.7" cy="961.8" r="1.85"/><circle cx="268.3" cy="850.2" r="1.85"/><circle cx="315.6" cy="918.5" r="1.85"/></g><g fill="#3762b4"><circle cx="97.7" cy="752.5" r="1.15"/><circle cx="97.3" cy="753.7" r="1.15"/><circle cx="98.5" cy="755.6" r="1.15"/><circle cx="105.0" cy="755.6" r="1.15"/><circle cx="107.7" cy="754.5" r="1.15"/><circle cx="108.5" cy="756.8" r="1.15"/><circle cx="110.4" cy="757.5" r="1.15"/><circle cx="108.8" cy="759.8" r="1.15"/><circle cx="109.6" cy="762.5" r="1.15"/><circle cx="110.2" cy="764.5" r="1.15"/><circle cx="116.2" cy="758.7" r="1.15"/><circle cx="115.4" cy="761.4" r="1.15"/><circle cx="114.5" cy="763.1" r="1.15"/><circle cx="120.8" cy="757.9" r="1.15"/><circle cx="122.7" cy="758.3" r="1.15"/><circle cx="121.2" cy="760.2" r="1.15"/><circle cx="125.0" cy="761.4" r="1.15"/><circle cx="125.8" cy="763.3" r="1.15"/><circle cx="163.7" cy="961.8" r="1.15"/><circle cx="268.3" cy="850.2" r="1.15"/><circle cx="315.6" cy="918.5" r="1.15"/></g><g fill="#3ebfe6" fill-opacity="0.35"><circle cx="117.3" cy="770.2" r="1.85"/><circle cx="106.0" cy="802.2" r="1.85"/><circle cx="108.8" cy="805.2" r="1.85"/><circle cx="112.9" cy="800.2" r="1.85"/><circle cx="125.0" cy="798.8" r="1.85"/><circle cx="127.5" cy="800.5" r="1.85"/><circle cx="117.5" cy="807.2" r="1.85"/><circle cx="119.2" cy="805.4" r="1.85"/><circle cx="120.6" cy="804.8" r="1.85"/><circle cx="101.3" cy="817.3" r="1.85"/><circle cx="104.0" cy="820.4" r="1.85"/><circle cx="121.0" cy="823.1" r="1.85"/><circle cx="95.9" cy="825.4" r="1.85"/><circle cx="97.1" cy="830.2" r="1.85"/><circle cx="107.1" cy="828.5" r="1.85"/><circle cx="110.2" cy="831.6" r="1.85"/><circle cx="112.9" cy="834.6" r="1.85"/><circle cx="94.4" cy="834.8" r="1.85"/><circle cx="115.2" cy="836.0" r="1.85"/><circle cx="117.1" cy="839.7" r="1.85"/><circle cx="111.3" cy="840.0" r="1.85"/><circle cx="92.3" cy="838.3" r="1.85"/><circle cx="95.2" cy="841.8" r="1.85"/><circle cx="99.8" cy="843.5" r="1.85"/><circle cx="104.4" cy="847.8" r="1.85"/><circle cx="108.7" cy="849.8" r="1.85"/><circle cx="112.8" cy="850.8" r="1.85"/><circle cx="104.8" cy="852.4" r="1.85"/><circle cx="85.4" cy="848.1" r="1.85"/><circle cx="85.4" cy="851.2" r="1.85"/><circle cx="91.2" cy="850.4" r="1.85"/><circle cx="86.0" cy="857.9" r="1.85"/><circle cx="86.5" cy="857.0" r="1.85"/><circle cx="91.2" cy="860.5" r="1.85"/><circle cx="87.9" cy="864.3" r="1.85"/><circle cx="90.6" cy="869.5" r="1.85"/><circle cx="93.7" cy="869.7" r="1.85"/><circle cx="106.4" cy="869.5" r="1.85"/><circle cx="99.2" cy="873.5" r="1.85"/><circle cx="97.5" cy="875.2" r="1.85"/><circle cx="173.2" cy="894.8" r="1.85"/><circle cx="185.0" cy="899.5" r="1.85"/></g><g fill="#3ab3d8"><circle cx="117.3" cy="770.2" r="1.15"/><circle cx="106.0" cy="802.2" r="1.15"/><circle cx="108.8" cy="805.2" r="1.15"/><circle cx="112.9" cy="800.2" r="1.15"/><circle cx="125.0" cy="798.8" r="1.15"/><circle cx="127.5" cy="800.5" r="1.15"/><circle cx="117.5" cy="807.2" r="1.15"/><circle cx="119.2" cy="805.4" r="1.15"/><circle cx="120.6" cy="804.8" r="1.15"/><circle cx="101.3" cy="817.3" r="1.15"/><circle cx="104.0" cy="820.4" r="1.15"/><circle cx="121.0" cy="823.1" r="1.15"/><circle cx="95.9" cy="825.4" r="1.15"/><circle cx="97.1" cy="830.2" r="1.15"/><circle cx="107.1" cy="828.5" r="1.15"/><circle cx="110.2" cy="831.6" r="1.15"/><circle cx="112.9" cy="834.6" r="1.15"/><circle cx="94.4" cy="834.8" r="1.15"/><circle cx="115.2" cy="836.0" r="1.15"/><circle cx="117.1" cy="839.7" r="1.15"/><circle cx="111.3" cy="840.0" r="1.15"/><circle cx="92.3" cy="838.3" r="1.15"/><circle cx="95.2" cy="841.8" r="1.15"/><circle cx="99.8" cy="843.5" r="1.15"/><circle cx="104.4" cy="847.8" r="1.15"/><circle cx="108.7" cy="849.8" r="1.15"/><circle cx="112.8" cy="850.8" r="1.15"/><circle cx="104.8" cy="852.4" r="1.15"/><circle cx="85.4" cy="848.1" r="1.15"/><circle cx="85.4" cy="851.2" r="1.15"/><circle cx="91.2" cy="850.4" r="1.15"/><circle cx="86.0" cy="857.9" r="1.15"/><circle cx="86.5" cy="857.0" r="1.15"/><circle cx="91.2" cy="860.5" r="1.15"/><circle cx="87.9" cy="864.3" r="1.15"/><circle cx="90.6" cy="869.5" r="1.15"/><circle cx="93.7" cy="869.7" r="1.15"/><circle cx="106.4" cy="869.5" r="1.15"/><circle cx="99.2" cy="873.5" r="1.15"/><circle cx="97.5" cy="875.2" r="1.15"/><circle cx="173.2" cy="894.8" r="1.15"/><circle cx="185.0" cy="899.5" r="1.15"/></g><g fill="#3dbb98" fill-opacity="0.35"><circle cx="182.1" cy="889.3" r="1.85"/><circle cx="162.8" cy="900.6" r="1.85"/><circle cx="162.2" cy="920.0" r="1.85"/><circle cx="195.2" cy="922.0" r="1.85"/><circle cx="199.4" cy="923.5" r="1.85"/><circle cx="151.5" cy="944.2" r="1.85"/><circle cx="162.2" cy="951.6" r="1.85"/><circle cx="160.2" cy="958.3" r="1.85"/><circle cx="194.8" cy="964.1" r="1.85"/><circle cx="211.5" cy="964.2" r="1.85"/><circle cx="211.3" cy="967.7" r="1.85"/><circle cx="206.3" cy="970.3" r="1.85"/><circle cx="208.7" cy="970.0" r="1.85"/><circle cx="204.9" cy="973.4" r="1.85"/><circle cx="210.1" cy="972.6" r="1.85"/><circle cx="207.8" cy="975.7" r="1.85"/><circle cx="223.1" cy="973.1" r="1.85"/><circle cx="225.4" cy="974.0" r="1.85"/><circle cx="302.7" cy="976.4" r="1.85"/><circle cx="305.4" cy="976.8" r="1.85"/><circle cx="307.3" cy="978.3" r="1.85"/><circle cx="306.5" cy="980.1" r="1.85"/><circle cx="311.5" cy="977.9" r="1.85"/><circle cx="308.5" cy="977.2" r="1.85"/><circle cx="260.8" cy="861.2" r="1.85"/><circle cx="350.6" cy="944.5" r="1.85"/></g><g fill="#39af8e"><circle cx="182.1" cy="889.3" r="1.15"/><circle cx="162.8" cy="900.6" r="1.15"/><circle cx="162.2" cy="920.0" r="1.15"/><circle cx="195.2" cy="922.0" r="1.15"/><circle cx="199.4" cy="923.5" r="1.15"/><circle cx="151.5" cy="944.2" r="1.15"/><circle cx="162.2" cy="951.6" r="1.15"/><circle cx="160.2" cy="958.3" r="1.15"/><circle cx="194.8" cy="964.1" r="1.15"/><circle cx="211.5" cy="964.2" r="1.15"/><circle cx="211.3" cy="967.7" r="1.15"/><circle cx="206.3" cy="970.3" r="1.15"/><circle cx="208.7" cy="970.0" r="1.15"/><circle cx="204.9" cy="973.4" r="1.15"/><circle cx="210.1" cy="972.6" r="1.15"/><circle cx="207.8" cy="975.7" r="1.15"/><circle cx="223.1" cy="973.1" r="1.15"/><circle cx="225.4" cy="974.0" r="1.15"/><circle cx="302.7" cy="976.4" r="1.15"/><circle cx="305.4" cy="976.8" r="1.15"/><circle cx="307.3" cy="978.3" r="1.15"/><circle cx="306.5" cy="980.1" r="1.15"/><circle cx="311.5" cy="977.9" r="1.15"/><circle cx="308.5" cy="977.2" r="1.15"/><circle cx="260.8" cy="861.2" r="1.15"/><circle cx="350.6" cy="944.5" r="1.15"/></g><g fill="#84909a" fill-opacity="0.35"><circle cx="192.5" cy="902.9" r="1.85"/><circle cx="198.6" cy="905.2" r="1.85"/><circle cx="185.2" cy="910.4" r="1.85"/><circle cx="176.3" cy="913.9" r="1.85"/><circle cx="179.0" cy="915.0" r="1.85"/><circle cx="180.6" cy="921.2" r="1.85"/><circle cx="164.2" cy="931.8" r="1.85"/><circle cx="168.3" cy="930.8" r="1.85"/><circle cx="169.4" cy="930.6" r="1.85"/><circle cx="162.5" cy="934.7" r="1.85"/><circle cx="166.0" cy="935.2" r="1.85"/><circle cx="173.5" cy="937.5" r="1.85"/><circle cx="163.7" cy="942.2" r="1.85"/><circle cx="153.3" cy="947.7" r="1.85"/><circle cx="154.8" cy="954.3" r="1.85"/><circle cx="157.5" cy="955.4" r="1.85"/><circle cx="158.7" cy="956.6" r="1.85"/><circle cx="155.9" cy="958.9" r="1.85"/><circle cx="169.8" cy="965.0" r="1.85"/><circle cx="215.9" cy="970.3" r="1.85"/><circle cx="239.0" cy="792.2" r="1.85"/><circle cx="253.6" cy="790.6" r="1.85"/><circle cx="308.1" cy="966.8" r="1.85"/><circle cx="312.9" cy="970.6" r="1.85"/><circle cx="274.8" cy="859.5" r="1.85"/><circle cx="255.0" cy="876.5" r="1.85"/><circle cx="247.5" cy="885.1" r="1.85"/><circle cx="345.0" cy="878.9" r="1.85"/><circle cx="324.8" cy="909.8" r="1.85"/><circle cx="335.6" cy="926.9" r="1.85"/></g><g fill="#7c8790"><circle cx="192.5" cy="902.9" r="1.15"/><circle cx="198.6" cy="905.2" r="1.15"/><circle cx="185.2" cy="910.4" r="1.15"/><circle cx="176.3" cy="913.9" r="1.15"/><circle cx="179.0" cy="915.0" r="1.15"/><circle cx="180.6" cy="921.2" r="1.15"/><circle cx="164.2" cy="931.8" r="1.15"/><circle cx="168.3" cy="930.8" r="1.15"/><circle cx="169.4" cy="930.6" r="1.15"/><circle cx="162.5" cy="934.7" r="1.15"/><circle cx="166.0" cy="935.2" r="1.15"/><circle cx="173.5" cy="937.5" r="1.15"/><circle cx="163.7" cy="942.2" r="1.15"/><circle cx="153.3" cy="947.7" r="1.15"/><circle cx="154.8" cy="954.3" r="1.15"/><circle cx="157.5" cy="955.4" r="1.15"/><circle cx="158.7" cy="956.6" r="1.15"/><circle cx="155.9" cy="958.9" r="1.15"/><circle cx="169.8" cy="965.0" r="1.15"/><circle cx="215.9" cy="970.3" r="1.15"/><circle cx="239.0" cy="792.2" r="1.15"/><circle cx="253.6" cy="790.6" r="1.15"/><circle cx="308.1" cy="966.8" r="1.15"/><circle cx="312.9" cy="970.6" r="1.15"/><circle cx="274.8" cy="859.5" r="1.15"/><circle cx="255.0" cy="876.5" r="1.15"/><circle cx="247.5" cy="885.1" r="1.15"/><circle cx="345.0" cy="878.9" r="1.15"/><circle cx="324.8" cy="909.8" r="1.15"/><circle cx="335.6" cy="926.9" r="1.15"/></g><g fill="#111111" fill-opacity="0.35"><circle cx="165.0" cy="898.7" r="1.85"/><circle cx="166.8" cy="901.8" r="1.85"/><circle cx="159.0" cy="904.7" r="1.85"/><circle cx="160.8" cy="904.7" r="1.85"/></g><g fill="#0f0f0f"><circle cx="165.0" cy="898.7" r="1.15"/><circle cx="166.8" cy="901.8" r="1.15"/><circle cx="159.0" cy="904.7" r="1.15"/><circle cx="160.8" cy="904.7" r="1.15"/></g><g fill="#e3342b" fill-opacity="0.35"><circle cx="157.3" cy="943.9" r="1.85"/><circle cx="284.4" cy="865.8" r="1.85"/><circle cx="298.3" cy="841.9" r="1.85"/><circle cx="268.3" cy="853.5" r="1.85"/><circle cx="264.0" cy="854.3" r="1.85"/><circle cx="263.1" cy="860.6" r="1.85"/><circle cx="265.2" cy="859.7" r="1.85"/><circle cx="286.7" cy="849.7" r="1.85"/><circle cx="287.9" cy="858.1" r="1.85"/><circle cx="293.7" cy="856.6" r="1.85"/><circle cx="294.8" cy="855.8" r="1.85"/><circle cx="266.0" cy="871.2" r="1.85"/><circle cx="331.3" cy="822.4" r="1.85"/><circle cx="337.9" cy="820.4" r="1.85"/><circle cx="325.5" cy="827.7" r="1.85"/><circle cx="332.9" cy="831.2" r="1.85"/><circle cx="344.8" cy="831.6" r="1.85"/><circle cx="349.4" cy="837.4" r="1.85"/><circle cx="307.5" cy="843.2" r="1.85"/><circle cx="309.8" cy="845.8" r="1.85"/><circle cx="319.1" cy="845.5" r="1.85"/><circle cx="324.6" cy="845.2" r="1.85"/><circle cx="334.8" cy="844.3" r="1.85"/><circle cx="301.0" cy="851.6" r="1.85"/><circle cx="312.2" cy="851.6" r="1.85"/><circle cx="314.8" cy="853.9" r="1.85"/><circle cx="317.1" cy="855.0" r="1.85"/><circle cx="322.9" cy="853.9" r="1.85"/><circle cx="321.2" cy="856.8" r="1.85"/><circle cx="306.7" cy="855.0" r="1.85"/><circle cx="304.4" cy="858.5" r="1.85"/><circle cx="314.5" cy="859.4" r="1.85"/><circle cx="329.2" cy="850.4" r="1.85"/><circle cx="345.4" cy="848.9" r="1.85"/><circle cx="349.1" cy="851.9" r="1.85"/><circle cx="343.7" cy="856.2" r="1.85"/><circle cx="326.7" cy="865.1" r="1.85"/><circle cx="341.9" cy="865.1" r="1.85"/><circle cx="360.2" cy="852.7" r="1.85"/><circle cx="355.6" cy="860.8" r="1.85"/><circle cx="363.5" cy="860.5" r="1.85"/><circle cx="365.2" cy="865.4" r="1.85"/><circle cx="349.4" cy="871.2" r="1.85"/><circle cx="350.8" cy="871.5" r="1.85"/><circle cx="337.8" cy="877.3" r="1.85"/><circle cx="348.2" cy="879.6" r="1.85"/><circle cx="352.8" cy="884.5" r="1.85"/><circle cx="344.4" cy="886.2" r="1.85"/><circle cx="340.4" cy="888.5" r="1.85"/><circle cx="364.8" cy="888.5" r="1.85"/><circle cx="353.1" cy="893.1" r="1.85"/><circle cx="347.5" cy="894.8" r="1.85"/><circle cx="344.4" cy="902.0" r="1.85"/><circle cx="350.5" cy="901.5" r="1.85"/><circle cx="358.3" cy="903.2" r="1.85"/><circle cx="359.8" cy="905.0" r="1.85"/><circle cx="351.9" cy="909.8" r="1.85"/><circle cx="362.5" cy="909.6" r="1.85"/><circle cx="375.0" cy="910.1" r="1.85"/><circle cx="341.0" cy="915.4" r="1.85"/><circle cx="344.2" cy="913.9" r="1.85"/><circle cx="358.7" cy="913.3" r="1.85"/><circle cx="359.5" cy="916.2" r="1.85"/><circle cx="362.5" cy="918.5" r="1.85"/><circle cx="366.4" cy="917.7" r="1.85"/><circle cx="377.7" cy="916.5" r="1.85"/><circle cx="384.8" cy="914.7" r="1.85"/><circle cx="352.9" cy="920.8" r="1.85"/><circle cx="380.9" cy="920.5" r="1.85"/><circle cx="378.3" cy="922.5" r="1.85"/><circle cx="383.2" cy="923.9" r="1.85"/><circle cx="382.1" cy="925.8" r="1.85"/><circle cx="375.6" cy="926.2" r="1.85"/><circle cx="370.2" cy="926.9" r="1.85"/><circle cx="361.8" cy="928.9" r="1.85"/><circle cx="374.5" cy="930.4" r="1.85"/><circle cx="361.0" cy="939.8" r="1.85"/><circle cx="365.2" cy="940.1" r="1.85"/><circle cx="373.1" cy="938.9" r="1.85"/><circle cx="380.0" cy="938.1" r="1.85"/><circle cx="368.2" cy="952.3" r="1.85"/><circle cx="369.6" cy="950.8" r="1.85"/><circle cx="371.0" cy="950.2" r="1.85"/><circle cx="374.0" cy="952.3" r="1.85"/><circle cx="307.8" cy="896.0" r="1.85"/></g><g fill="#dc3229"><circle cx="157.3" cy="943.9" r="1.15"/><circle cx="284.4" cy="865.8" r="1.15"/><circle cx="298.3" cy="841.9" r="1.15"/><circle cx="268.3" cy="853.5" r="1.15"/><circle cx="264.0" cy="854.3" r="1.15"/><circle cx="263.1" cy="860.6" r="1.15"/><circle cx="265.2" cy="859.7" r="1.15"/><circle cx="286.7" cy="849.7" r="1.15"/><circle cx="287.9" cy="858.1" r="1.15"/><circle cx="293.7" cy="856.6" r="1.15"/><circle cx="294.8" cy="855.8" r="1.15"/><circle cx="266.0" cy="871.2" r="1.15"/><circle cx="331.3" cy="822.4" r="1.15"/><circle cx="337.9" cy="820.4" r="1.15"/><circle cx="325.5" cy="827.7" r="1.15"/><circle cx="332.9" cy="831.2" r="1.15"/><circle cx="344.8" cy="831.6" r="1.15"/><circle cx="349.4" cy="837.4" r="1.15"/><circle cx="307.5" cy="843.2" r="1.15"/><circle cx="309.8" cy="845.8" r="1.15"/><circle cx="319.1" cy="845.5" r="1.15"/><circle cx="324.6" cy="845.2" r="1.15"/><circle cx="334.8" cy="844.3" r="1.15"/><circle cx="301.0" cy="851.6" r="1.15"/><circle cx="312.2" cy="851.6" r="1.15"/><circle cx="314.8" cy="853.9" r="1.15"/><circle cx="317.1" cy="855.0" r="1.15"/><circle cx="322.9" cy="853.9" r="1.15"/><circle cx="321.2" cy="856.8" r="1.15"/><circle cx="306.7" cy="855.0" r="1.15"/><circle cx="304.4" cy="858.5" r="1.15"/><circle cx="314.5" cy="859.4" r="1.15"/><circle cx="329.2" cy="850.4" r="1.15"/><circle cx="345.4" cy="848.9" r="1.15"/><circle cx="349.1" cy="851.9" r="1.15"/><circle cx="343.7" cy="856.2" r="1.15"/><circle cx="326.7" cy="865.1" r="1.15"/><circle cx="341.9" cy="865.1" r="1.15"/><circle cx="360.2" cy="852.7" r="1.15"/><circle cx="355.6" cy="860.8" r="1.15"/><circle cx="363.5" cy="860.5" r="1.15"/><circle cx="365.2" cy="865.4" r="1.15"/><circle cx="349.4" cy="871.2" r="1.15"/><circle cx="350.8" cy="871.5" r="1.15"/><circle cx="337.8" cy="877.3" r="1.15"/><circle cx="348.2" cy="879.6" r="1.15"/><circle cx="352.8" cy="884.5" r="1.15"/><circle cx="344.4" cy="886.2" r="1.15"/><circle cx="340.4" cy="888.5" r="1.15"/><circle cx="364.8" cy="888.5" r="1.15"/><circle cx="353.1" cy="893.1" r="1.15"/><circle cx="347.5" cy="894.8" r="1.15"/><circle cx="344.4" cy="902.0" r="1.15"/><circle cx="350.5" cy="901.5" r="1.15"/><circle cx="358.3" cy="903.2" r="1.15"/><circle cx="359.8" cy="905.0" r="1.15"/><circle cx="351.9" cy="909.8" r="1.15"/><circle cx="362.5" cy="909.6" r="1.15"/><circle cx="375.0" cy="910.1" r="1.15"/><circle cx="341.0" cy="915.4" r="1.15"/><circle cx="344.2" cy="913.9" r="1.15"/><circle cx="358.7" cy="913.3" r="1.15"/><circle cx="359.5" cy="916.2" r="1.15"/><circle cx="362.5" cy="918.5" r="1.15"/><circle cx="366.4" cy="917.7" r="1.15"/><circle cx="377.7" cy="916.5" r="1.15"/><circle cx="384.8" cy="914.7" r="1.15"/><circle cx="352.9" cy="920.8" r="1.15"/><circle cx="380.9" cy="920.5" r="1.15"/><circle cx="378.3" cy="922.5" r="1.15"/><circle cx="383.2" cy="923.9" r="1.15"/><circle cx="382.1" cy="925.8" r="1.15"/><circle cx="375.6" cy="926.2" r="1.15"/><circle cx="370.2" cy="926.9" r="1.15"/><circle cx="361.8" cy="928.9" r="1.15"/><circle cx="374.5" cy="930.4" r="1.15"/><circle cx="361.0" cy="939.8" r="1.15"/><circle cx="365.2" cy="940.1" r="1.15"/><circle cx="373.1" cy="938.9" r="1.15"/><circle cx="380.0" cy="938.1" r="1.15"/><circle cx="368.2" cy="952.3" r="1.15"/><circle cx="369.6" cy="950.8" r="1.15"/><circle cx="371.0" cy="950.2" r="1.15"/><circle cx="374.0" cy="952.3" r="1.15"/><circle cx="307.8" cy="896.0" r="1.15"/></g><g fill="#5b3f98" fill-opacity="0.35"><circle cx="241.9" cy="774.5" r="1.85"/><circle cx="244.2" cy="773.5" r="1.85"/><circle cx="243.5" cy="775.6" r="1.85"/><circle cx="244.8" cy="777.9" r="1.85"/><circle cx="243.6" cy="786.2" r="1.85"/><circle cx="241.3" cy="789.1" r="1.85"/><circle cx="243.1" cy="790.0" r="1.85"/><circle cx="244.6" cy="791.4" r="1.85"/><circle cx="252.3" cy="787.9" r="1.85"/></g><g fill="#553b8e"><circle cx="241.9" cy="774.5" r="1.15"/><circle cx="244.2" cy="773.5" r="1.15"/><circle cx="243.5" cy="775.6" r="1.15"/><circle cx="244.8" cy="777.9" r="1.15"/><circle cx="243.6" cy="786.2" r="1.15"/><circle cx="241.3" cy="789.1" r="1.15"/><circle cx="243.1" cy="790.0" r="1.15"/><circle cx="244.6" cy="791.4" r="1.15"/><circle cx="252.3" cy="787.9" r="1.15"/></g><g fill="#d2be2c" fill-opacity="0.35"><circle cx="253.8" cy="858.9" r="1.85"/><circle cx="266.8" cy="864.3" r="1.85"/><circle cx="327.8" cy="815.0" r="1.85"/><circle cx="333.3" cy="821.6" r="1.85"/><circle cx="335.6" cy="819.6" r="1.85"/><circle cx="327.2" cy="830.8" r="1.85"/><circle cx="323.7" cy="837.4" r="1.85"/><circle cx="305.2" cy="839.7" r="1.85"/><circle cx="306.2" cy="862.0" r="1.85"/><circle cx="340.8" cy="855.8" r="1.85"/><circle cx="347.3" cy="874.7" r="1.85"/><circle cx="349.8" cy="888.2" r="1.85"/></g><g fill="#c5b229"><circle cx="253.8" cy="858.9" r="1.15"/><circle cx="266.8" cy="864.3" r="1.15"/><circle cx="327.8" cy="815.0" r="1.15"/><circle cx="333.3" cy="821.6" r="1.15"/><circle cx="335.6" cy="819.6" r="1.15"/><circle cx="327.2" cy="830.8" r="1.15"/><circle cx="323.7" cy="837.4" r="1.15"/><circle cx="305.2" cy="839.7" r="1.15"/><circle cx="306.2" cy="862.0" r="1.15"/><circle cx="340.8" cy="855.8" r="1.15"/><circle cx="347.3" cy="874.7" r="1.15"/><circle cx="349.8" cy="888.2" r="1.15"/></g><g fill="#f08a80" fill-opacity="0.35"><circle cx="270.2" cy="863.2" r="1.85"/><circle cx="342.2" cy="839.5" r="1.85"/><circle cx="301.5" cy="840.4" r="1.85"/><circle cx="303.6" cy="841.2" r="1.85"/><circle cx="298.3" cy="847.3" r="1.85"/><circle cx="299.4" cy="848.5" r="1.85"/><circle cx="296.5" cy="850.5" r="1.85"/><circle cx="363.5" cy="889.7" r="1.85"/><circle cx="366.9" cy="908.1" r="1.85"/></g><g fill="#e18178"><circle cx="270.2" cy="863.2" r="1.15"/><circle cx="342.2" cy="839.5" r="1.15"/><circle cx="301.5" cy="840.4" r="1.15"/><circle cx="303.6" cy="841.2" r="1.15"/><circle cx="298.3" cy="847.3" r="1.15"/><circle cx="299.4" cy="848.5" r="1.15"/><circle cx="296.5" cy="850.5" r="1.15"/><circle cx="363.5" cy="889.7" r="1.15"/><circle cx="366.9" cy="908.1" r="1.15"/></g><g fill="#8a1f7e" fill-opacity="0.35"><circle cx="270.9" cy="870.4" r="1.85"/></g><g fill="#811d76"><circle cx="270.9" cy="870.4" r="1.15"/></g>
</svg></body></html>
